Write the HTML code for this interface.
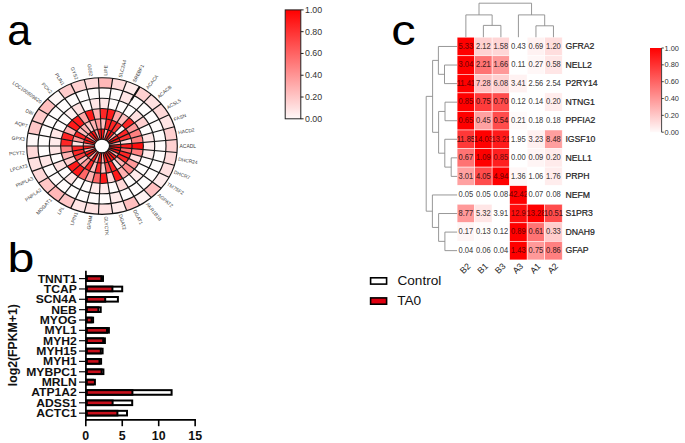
<!DOCTYPE html>
<html><head><meta charset="utf-8"><style>
html,body{margin:0;padding:0;background:#fff;}
svg{display:block;}
text{font-family:"Liberation Sans", sans-serif;}
</style></head><body>
<svg width="685" height="443" viewBox="0 0 685 443">
<rect width="685" height="443" fill="#fff"/>
<g><path d="M101.11,128.97 L101.70,128.95 L102.30,128.95 L102.89,128.97 L103.49,129.00 L104.08,129.05 L104.68,129.12 L103.07,139.27 L102.83,139.24 L102.59,139.22 L102.36,139.21 L102.12,139.20 L101.88,139.20 L101.64,139.21Z" fill="#ff1414"/><path d="M100.57,118.73 L101.52,118.70 L102.48,118.70 L103.43,118.73 L104.39,118.79 L105.34,118.87 L106.28,118.98 L104.68,129.12 L104.08,129.05 L103.49,129.00 L102.89,128.97 L102.30,128.95 L101.70,128.95 L101.11,128.97Z" fill="#ffbfbf"/><path d="M100.03,108.49 L101.34,108.45 L102.66,108.45 L103.97,108.49 L105.28,108.57 L106.59,108.68 L107.89,108.83 L106.28,118.98 L105.34,118.87 L104.39,118.79 L103.43,118.73 L102.48,118.70 L101.52,118.70 L100.57,118.73Z" fill="#ff2626"/><path d="M99.49,98.26 L101.16,98.21 L102.84,98.21 L104.51,98.26 L106.18,98.35 L107.84,98.50 L109.50,98.69 L107.89,108.83 L106.59,108.68 L105.28,108.57 L103.97,108.49 L102.66,108.45 L101.34,108.45 L100.03,108.49Z" fill="#ffe6e6"/><path d="M98.95,88.02 L100.98,87.96 L103.02,87.96 L105.05,88.02 L107.07,88.13 L109.09,88.31 L111.11,88.54 L109.50,98.69 L107.84,98.50 L106.18,98.35 L104.51,98.26 L102.84,98.21 L101.16,98.21 L99.49,98.26Z" fill="#fffcfc"/><path d="M98.42,77.78 L100.81,77.71 L103.19,77.71 L105.58,77.78 L107.97,77.92 L110.35,78.12 L112.72,78.40 L111.11,88.54 L109.09,88.31 L107.07,88.13 L105.05,88.02 L103.02,87.96 L100.98,87.96 L98.95,88.02Z" fill="#ffb8b8"/><path d="M104.68,129.12 L105.26,129.21 L105.85,129.31 L106.43,129.43 L107.01,129.56 L107.58,129.72 L108.15,129.89 L104.45,139.57 L104.23,139.50 L104.00,139.44 L103.77,139.39 L103.54,139.34 L103.30,139.30 L103.07,139.27Z" fill="#ffb2b2"/><path d="M106.28,118.98 L107.23,119.11 L108.16,119.28 L109.10,119.47 L110.02,119.69 L110.94,119.93 L111.84,120.20 L108.15,129.89 L107.58,129.72 L107.01,129.56 L106.43,129.43 L105.85,129.31 L105.26,129.21 L104.68,129.12Z" fill="#ff2626"/><path d="M107.89,108.83 L109.19,109.02 L110.48,109.25 L111.76,109.51 L113.03,109.81 L114.29,110.14 L115.54,110.52 L111.84,120.20 L110.94,119.93 L110.02,119.69 L109.10,119.47 L108.16,119.28 L107.23,119.11 L106.28,118.98Z" fill="#ff1a1a"/><path d="M109.50,98.69 L111.15,98.93 L112.79,99.21 L114.42,99.55 L116.04,99.93 L117.65,100.36 L119.24,100.83 L115.54,110.52 L114.29,110.14 L113.03,109.81 L111.76,109.51 L110.48,109.25 L109.19,109.02 L107.89,108.83Z" fill="#fffcfc"/><path d="M111.11,88.54 L113.11,88.83 L115.11,89.18 L117.09,89.59 L119.05,90.05 L121.00,90.57 L122.93,91.14 L119.24,100.83 L117.65,100.36 L116.04,99.93 L114.42,99.55 L112.79,99.21 L111.15,98.93 L109.50,98.69Z" fill="#fffcfc"/><path d="M112.72,78.40 L115.08,78.74 L117.42,79.15 L119.75,79.63 L122.07,80.17 L124.36,80.78 L126.63,81.46 L122.93,91.14 L121.00,90.57 L119.05,90.05 L117.09,89.59 L115.11,89.18 L113.11,88.83 L111.11,88.54Z" fill="#ffd9d9"/><path d="M108.15,129.89 L108.71,130.07 L109.26,130.27 L109.81,130.49 L110.35,130.72 L110.88,130.97 L111.40,131.23 L105.75,140.11 L105.54,140.00 L105.33,139.91 L105.12,139.81 L104.90,139.73 L104.68,139.65 L104.45,139.57Z" fill="#ff1414"/><path d="M111.84,120.20 L112.74,120.50 L113.63,120.82 L114.50,121.17 L115.37,121.54 L116.22,121.94 L117.05,122.36 L111.40,131.23 L110.88,130.97 L110.35,130.72 L109.81,130.49 L109.26,130.27 L108.71,130.07 L108.15,129.89Z" fill="#ff2626"/><path d="M115.54,110.52 L116.78,110.92 L117.99,111.37 L119.20,111.84 L120.38,112.36 L121.55,112.90 L122.70,113.48 L117.05,122.36 L116.22,121.94 L115.37,121.54 L114.50,121.17 L113.63,120.82 L112.74,120.50 L111.84,120.20Z" fill="#ffa6a6"/><path d="M119.24,100.83 L120.81,101.35 L122.36,101.91 L123.89,102.52 L125.40,103.17 L126.89,103.87 L128.35,104.60 L122.70,113.48 L121.55,112.90 L120.38,112.36 L119.20,111.84 L117.99,111.37 L116.78,110.92 L115.54,110.52Z" fill="#fffcfc"/><path d="M122.93,91.14 L124.84,91.77 L126.73,92.46 L128.59,93.20 L130.42,93.99 L132.23,94.83 L134.00,95.73 L128.35,104.60 L126.89,103.87 L125.40,103.17 L123.89,102.52 L122.36,101.91 L120.81,101.35 L119.24,100.83Z" fill="#ffe6e6"/><path d="M126.63,81.46 L128.87,82.20 L131.09,83.01 L133.28,83.87 L135.44,84.81 L137.56,85.80 L139.65,86.85 L134.00,95.73 L132.23,94.83 L130.42,93.99 L128.59,93.20 L126.73,92.46 L124.84,91.77 L122.93,91.14Z" fill="#ffebeb"/><path d="M111.40,131.23 L111.91,131.51 L112.41,131.80 L112.91,132.11 L113.39,132.43 L113.85,132.77 L114.31,133.11 L106.91,140.86 L106.73,140.72 L106.54,140.59 L106.35,140.46 L106.15,140.34 L105.95,140.22 L105.75,140.11Z" fill="#ff1414"/><path d="M117.05,122.36 L117.87,122.80 L118.67,123.27 L119.46,123.76 L120.23,124.28 L120.98,124.81 L121.71,125.37 L114.31,133.11 L113.85,132.77 L113.39,132.43 L112.91,132.11 L112.41,131.80 L111.91,131.51 L111.40,131.23Z" fill="#ff3333"/><path d="M122.70,113.48 L123.83,114.09 L124.93,114.74 L126.01,115.41 L127.07,116.12 L128.10,116.86 L129.11,117.62 L121.71,125.37 L120.98,124.81 L120.23,124.28 L119.46,123.76 L118.67,123.27 L117.87,122.80 L117.05,122.36Z" fill="#ffbfbf"/><path d="M128.35,104.60 L129.78,105.38 L131.19,106.20 L132.57,107.06 L133.92,107.96 L135.23,108.90 L136.51,109.88 L129.11,117.62 L128.10,116.86 L127.07,116.12 L126.01,115.41 L124.93,114.74 L123.83,114.09 L122.70,113.48Z" fill="#fffcfc"/><path d="M134.00,95.73 L135.74,96.68 L137.45,97.67 L139.12,98.72 L140.76,99.81 L142.36,100.95 L143.91,102.13 L136.51,109.88 L135.23,108.90 L133.92,107.96 L132.57,107.06 L131.19,106.20 L129.78,105.38 L128.35,104.60Z" fill="#fffcfc"/><path d="M139.65,86.85 L141.70,87.97 L143.71,89.14 L145.68,90.37 L147.60,91.65 L149.48,92.99 L151.31,94.38 L143.91,102.13 L142.36,100.95 L140.76,99.81 L139.12,98.72 L137.45,97.67 L135.74,96.68 L134.00,95.73Z" fill="#ffd1d1"/><path d="M114.31,133.11 L114.76,133.47 L115.19,133.85 L115.61,134.23 L116.01,134.63 L116.40,135.04 L116.78,135.46 L107.90,141.79 L107.75,141.63 L107.59,141.46 L107.43,141.31 L107.26,141.15 L107.09,141.00 L106.91,140.86Z" fill="#ffb2b2"/><path d="M121.71,125.37 L122.42,125.95 L123.11,126.54 L123.78,127.16 L124.43,127.80 L125.06,128.45 L125.66,129.12 L116.78,135.46 L116.40,135.04 L116.01,134.63 L115.61,134.23 L115.19,133.85 L114.76,133.47 L114.31,133.11Z" fill="#fff2f2"/><path d="M129.11,117.62 L130.09,118.42 L131.04,119.24 L131.96,120.09 L132.85,120.96 L133.71,121.86 L134.54,122.79 L125.66,129.12 L125.06,128.45 L124.43,127.80 L123.78,127.16 L123.11,126.54 L122.42,125.95 L121.71,125.37Z" fill="#ff2626"/><path d="M136.51,109.88 L137.76,110.89 L138.97,111.93 L140.14,113.01 L141.28,114.13 L142.37,115.28 L143.42,116.45 L134.54,122.79 L133.71,121.86 L132.85,120.96 L131.96,120.09 L131.04,119.24 L130.09,118.42 L129.11,117.62Z" fill="#ffe0e0"/><path d="M143.91,102.13 L145.42,103.36 L146.89,104.63 L148.32,105.94 L149.70,107.30 L151.03,108.69 L152.31,110.12 L143.42,116.45 L142.37,115.28 L141.28,114.13 L140.14,113.01 L138.97,111.93 L137.76,110.89 L136.51,109.88Z" fill="#fffcfc"/><path d="M151.31,94.38 L153.09,95.83 L154.82,97.33 L156.50,98.87 L158.12,100.46 L159.68,102.10 L161.19,103.78 L152.31,110.12 L151.03,108.69 L149.70,107.30 L148.32,105.94 L146.89,104.63 L145.42,103.36 L143.91,102.13Z" fill="#ffe0e0"/><path d="M116.78,135.46 L117.14,135.89 L117.49,136.33 L117.82,136.78 L118.13,137.24 L118.43,137.71 L118.71,138.19 L108.67,142.88 L108.55,142.69 L108.43,142.51 L108.31,142.32 L108.18,142.14 L108.04,141.97 L107.90,141.79Z" fill="#ff1414"/><path d="M125.66,129.12 L126.24,129.81 L126.79,130.52 L127.32,131.24 L127.83,131.98 L128.30,132.73 L128.75,133.49 L118.71,138.19 L118.43,137.71 L118.13,137.24 L117.82,136.78 L117.49,136.33 L117.14,135.89 L116.78,135.46Z" fill="#ff2626"/><path d="M134.54,122.79 L135.34,123.74 L136.10,124.71 L136.83,125.70 L137.52,126.71 L138.18,127.74 L138.80,128.79 L128.75,133.49 L128.30,132.73 L127.83,131.98 L127.32,131.24 L126.79,130.52 L126.24,129.81 L125.66,129.12Z" fill="#ff9999"/><path d="M143.42,116.45 L144.44,117.66 L145.41,118.90 L146.33,120.16 L147.22,121.45 L148.05,122.76 L148.84,124.10 L138.80,128.79 L138.18,127.74 L137.52,126.71 L136.83,125.70 L136.10,124.71 L135.34,123.74 L134.54,122.79Z" fill="#ffd1d1"/><path d="M152.31,110.12 L153.54,111.58 L154.72,113.08 L155.84,114.62 L156.91,116.18 L157.93,117.78 L158.89,119.40 L148.84,124.10 L148.05,122.76 L147.22,121.45 L146.33,120.16 L145.41,118.90 L144.44,117.66 L143.42,116.45Z" fill="#fffcfc"/><path d="M161.19,103.78 L162.64,105.51 L164.02,107.27 L165.35,109.08 L166.61,110.92 L167.80,112.79 L168.93,114.70 L158.89,119.40 L157.93,117.78 L156.91,116.18 L155.84,114.62 L154.72,113.08 L153.54,111.58 L152.31,110.12Z" fill="#ffd9d9"/><path d="M118.71,138.19 L118.98,138.67 L119.22,139.16 L119.45,139.66 L119.67,140.17 L119.86,140.68 L120.04,141.20 L109.20,144.08 L109.13,143.88 L109.05,143.67 L108.96,143.47 L108.87,143.27 L108.77,143.08 L108.67,142.88Z" fill="#ff1414"/><path d="M128.75,133.49 L129.18,134.27 L129.57,135.05 L129.94,135.85 L130.28,136.66 L130.60,137.48 L130.88,138.31 L120.04,141.20 L119.86,140.68 L119.67,140.17 L119.45,139.66 L119.22,139.16 L118.98,138.67 L118.71,138.19Z" fill="#ff3333"/><path d="M138.80,128.79 L139.38,129.86 L139.93,130.95 L140.43,132.04 L140.90,133.16 L141.33,134.28 L141.72,135.42 L130.88,138.31 L130.60,137.48 L130.28,136.66 L129.94,135.85 L129.57,135.05 L129.18,134.27 L128.75,133.49Z" fill="#ff8080"/><path d="M148.84,124.10 L149.58,125.46 L150.28,126.84 L150.92,128.23 L151.52,129.65 L152.07,131.09 L152.57,132.53 L141.72,135.42 L141.33,134.28 L140.90,133.16 L140.43,132.04 L139.93,130.95 L139.38,129.86 L138.80,128.79Z" fill="#fffcfc"/><path d="M158.89,119.40 L159.79,121.05 L160.63,122.73 L161.42,124.43 L162.14,126.15 L162.80,127.89 L163.41,129.65 L152.57,132.53 L152.07,131.09 L151.52,129.65 L150.92,128.23 L150.28,126.84 L149.58,125.46 L148.84,124.10Z" fill="#fffcfc"/><path d="M168.93,114.70 L169.99,116.65 L170.98,118.62 L171.91,120.62 L172.76,122.64 L173.54,124.69 L174.25,126.76 L163.41,129.65 L162.80,127.89 L162.14,126.15 L161.42,124.43 L160.63,122.73 L159.79,121.05 L158.89,119.40Z" fill="#ffe6e6"/><path d="M120.04,141.20 L120.20,141.72 L120.34,142.24 L120.46,142.77 L120.56,143.31 L120.65,143.84 L120.71,144.38 L109.47,145.35 L109.44,145.14 L109.41,144.93 L109.36,144.71 L109.32,144.50 L109.26,144.29 L109.20,144.08Z" fill="#ffb2b2"/><path d="M130.88,138.31 L131.14,139.14 L131.36,139.99 L131.56,140.83 L131.72,141.69 L131.86,142.54 L131.96,143.40 L120.71,144.38 L120.65,143.84 L120.56,143.31 L120.46,142.77 L120.34,142.24 L120.20,141.72 L120.04,141.20Z" fill="#ffd9d9"/><path d="M141.72,135.42 L142.07,136.57 L142.38,137.73 L142.65,138.89 L142.88,140.07 L143.07,141.25 L143.21,142.43 L131.96,143.40 L131.86,142.54 L131.72,141.69 L131.56,140.83 L131.36,139.99 L131.14,139.14 L130.88,138.31Z" fill="#ff8080"/><path d="M152.57,132.53 L153.01,134.00 L153.41,135.47 L153.75,136.95 L154.04,138.45 L154.28,139.95 L154.46,141.46 L143.21,142.43 L143.07,141.25 L142.88,140.07 L142.65,138.89 L142.38,137.73 L142.07,136.57 L141.72,135.42Z" fill="#ffe6e6"/><path d="M163.41,129.65 L163.95,131.42 L164.43,133.21 L164.84,135.01 L165.20,136.83 L165.49,138.65 L165.71,140.48 L154.46,141.46 L154.28,139.95 L154.04,138.45 L153.75,136.95 L153.41,135.47 L153.01,134.00 L152.57,132.53Z" fill="#fffcfc"/><path d="M174.25,126.76 L174.89,128.85 L175.45,130.95 L175.94,133.07 L176.35,135.21 L176.69,137.35 L176.96,139.51 L165.71,140.48 L165.49,138.65 L165.20,136.83 L164.84,135.01 L164.43,133.21 L163.95,131.42 L163.41,129.65Z" fill="#ffd1d1"/><path d="M120.71,144.38 L120.76,144.92 L120.79,145.46 L120.80,146.00 L120.79,146.54 L120.76,147.08 L120.71,147.62 L109.47,146.65 L109.48,146.43 L109.50,146.22 L109.50,146.00 L109.50,145.78 L109.48,145.57 L109.47,145.35Z" fill="#ff1414"/><path d="M131.96,143.40 L132.04,144.27 L132.08,145.13 L132.10,146.00 L132.08,146.87 L132.04,147.73 L131.96,148.60 L120.71,147.62 L120.76,147.08 L120.79,146.54 L120.80,146.00 L120.79,145.46 L120.76,144.92 L120.71,144.38Z" fill="#ff1a1a"/><path d="M143.21,142.43 L143.32,143.62 L143.38,144.81 L143.40,146.00 L143.38,147.19 L143.32,148.38 L143.21,149.57 L131.96,148.60 L132.04,147.73 L132.08,146.87 L132.10,146.00 L132.08,145.13 L132.04,144.27 L131.96,143.40Z" fill="#ff0d0d"/><path d="M154.46,141.46 L154.59,142.97 L154.67,144.48 L154.70,146.00 L154.67,147.52 L154.59,149.03 L154.46,150.54 L143.21,149.57 L143.32,148.38 L143.38,147.19 L143.40,146.00 L143.38,144.81 L143.32,143.62 L143.21,142.43Z" fill="#ffebeb"/><path d="M165.71,140.48 L165.87,142.32 L165.97,144.16 L166.00,146.00 L165.97,147.84 L165.87,149.68 L165.71,151.52 L154.46,150.54 L154.59,149.03 L154.67,147.52 L154.70,146.00 L154.67,144.48 L154.59,142.97 L154.46,141.46Z" fill="#fffcfc"/><path d="M176.96,139.51 L177.15,141.67 L177.26,143.83 L177.30,146.00 L177.26,148.17 L177.15,150.33 L176.96,152.49 L165.71,151.52 L165.87,149.68 L165.97,147.84 L166.00,146.00 L165.97,144.16 L165.87,142.32 L165.71,140.48Z" fill="#ffd1d1"/><path d="M120.71,147.62 L120.65,148.16 L120.56,148.69 L120.46,149.23 L120.34,149.76 L120.20,150.28 L120.04,150.80 L109.20,147.92 L109.26,147.71 L109.32,147.50 L109.36,147.29 L109.41,147.07 L109.44,146.86 L109.47,146.65Z" fill="#ff1414"/><path d="M131.96,148.60 L131.86,149.46 L131.72,150.31 L131.56,151.17 L131.36,152.01 L131.14,152.86 L130.88,153.69 L120.04,150.80 L120.20,150.28 L120.34,149.76 L120.46,149.23 L120.56,148.69 L120.65,148.16 L120.71,147.62Z" fill="#ff6666"/><path d="M143.21,149.57 L143.07,150.75 L142.88,151.93 L142.65,153.11 L142.38,154.27 L142.07,155.43 L141.72,156.58 L130.88,153.69 L131.14,152.86 L131.36,152.01 L131.56,151.17 L131.72,150.31 L131.86,149.46 L131.96,148.60Z" fill="#ff8080"/><path d="M154.46,150.54 L154.28,152.05 L154.04,153.55 L153.75,155.05 L153.41,156.53 L153.01,158.00 L152.57,159.47 L141.72,156.58 L142.07,155.43 L142.38,154.27 L142.65,153.11 L142.88,151.93 L143.07,150.75 L143.21,149.57Z" fill="#ffeded"/><path d="M165.71,151.52 L165.49,153.35 L165.20,155.17 L164.84,156.99 L164.43,158.79 L163.95,160.58 L163.41,162.35 L152.57,159.47 L153.01,158.00 L153.41,156.53 L153.75,155.05 L154.04,153.55 L154.28,152.05 L154.46,150.54Z" fill="#fffcfc"/><path d="M176.96,152.49 L176.69,154.65 L176.35,156.79 L175.94,158.93 L175.45,161.05 L174.89,163.15 L174.25,165.24 L163.41,162.35 L163.95,160.58 L164.43,158.79 L164.84,156.99 L165.20,155.17 L165.49,153.35 L165.71,151.52Z" fill="#ffdbdb"/><path d="M120.04,150.80 L119.86,151.32 L119.67,151.83 L119.45,152.34 L119.22,152.84 L118.98,153.33 L118.71,153.81 L108.67,149.12 L108.77,148.92 L108.87,148.73 L108.96,148.53 L109.05,148.33 L109.13,148.12 L109.20,147.92Z" fill="#ff1414"/><path d="M130.88,153.69 L130.60,154.52 L130.28,155.34 L129.94,156.15 L129.57,156.95 L129.18,157.73 L128.75,158.51 L118.71,153.81 L118.98,153.33 L119.22,152.84 L119.45,152.34 L119.67,151.83 L119.86,151.32 L120.04,150.80Z" fill="#ff2626"/><path d="M141.72,156.58 L141.33,157.72 L140.90,158.84 L140.43,159.96 L139.93,161.05 L139.38,162.14 L138.80,163.21 L128.75,158.51 L129.18,157.73 L129.57,156.95 L129.94,156.15 L130.28,155.34 L130.60,154.52 L130.88,153.69Z" fill="#ffe0e0"/><path d="M152.57,159.47 L152.07,160.91 L151.52,162.35 L150.92,163.77 L150.28,165.16 L149.58,166.54 L148.84,167.90 L138.80,163.21 L139.38,162.14 L139.93,161.05 L140.43,159.96 L140.90,158.84 L141.33,157.72 L141.72,156.58Z" fill="#fffcfc"/><path d="M163.41,162.35 L162.80,164.11 L162.14,165.85 L161.42,167.57 L160.63,169.27 L159.79,170.95 L158.89,172.60 L148.84,167.90 L149.58,166.54 L150.28,165.16 L150.92,163.77 L151.52,162.35 L152.07,160.91 L152.57,159.47Z" fill="#fffcfc"/><path d="M174.25,165.24 L173.54,167.31 L172.76,169.36 L171.91,171.38 L170.98,173.38 L169.99,175.35 L168.93,177.30 L158.89,172.60 L159.79,170.95 L160.63,169.27 L161.42,167.57 L162.14,165.85 L162.80,164.11 L163.41,162.35Z" fill="#ffe0e0"/><path d="M118.71,153.81 L118.43,154.29 L118.13,154.76 L117.82,155.22 L117.49,155.67 L117.14,156.11 L116.78,156.54 L107.90,150.21 L108.04,150.03 L108.18,149.86 L108.31,149.68 L108.43,149.49 L108.55,149.31 L108.67,149.12Z" fill="#ffb2b2"/><path d="M128.75,158.51 L128.30,159.27 L127.83,160.02 L127.32,160.76 L126.79,161.48 L126.24,162.19 L125.66,162.88 L116.78,156.54 L117.14,156.11 L117.49,155.67 L117.82,155.22 L118.13,154.76 L118.43,154.29 L118.71,153.81Z" fill="#ff2626"/><path d="M138.80,163.21 L138.18,164.26 L137.52,165.29 L136.83,166.30 L136.10,167.29 L135.34,168.26 L134.54,169.21 L125.66,162.88 L126.24,162.19 L126.79,161.48 L127.32,160.76 L127.83,160.02 L128.30,159.27 L128.75,158.51Z" fill="#ff9999"/><path d="M148.84,167.90 L148.05,169.24 L147.22,170.55 L146.33,171.84 L145.41,173.10 L144.44,174.34 L143.42,175.55 L134.54,169.21 L135.34,168.26 L136.10,167.29 L136.83,166.30 L137.52,165.29 L138.18,164.26 L138.80,163.21Z" fill="#fffcfc"/><path d="M158.89,172.60 L157.93,174.22 L156.91,175.82 L155.84,177.38 L154.72,178.92 L153.54,180.42 L152.31,181.88 L143.42,175.55 L144.44,174.34 L145.41,173.10 L146.33,171.84 L147.22,170.55 L148.05,169.24 L148.84,167.90Z" fill="#fffcfc"/><path d="M168.93,177.30 L167.80,179.21 L166.61,181.08 L165.35,182.92 L164.02,184.73 L162.64,186.49 L161.19,188.22 L152.31,181.88 L153.54,180.42 L154.72,178.92 L155.84,177.38 L156.91,175.82 L157.93,174.22 L158.89,172.60Z" fill="#ffebeb"/><path d="M116.78,156.54 L116.40,156.96 L116.01,157.37 L115.61,157.77 L115.19,158.15 L114.76,158.53 L114.31,158.89 L106.91,151.14 L107.09,151.00 L107.26,150.85 L107.43,150.69 L107.59,150.54 L107.75,150.37 L107.90,150.21Z" fill="#ff1414"/><path d="M125.66,162.88 L125.06,163.55 L124.43,164.20 L123.78,164.84 L123.11,165.46 L122.42,166.05 L121.71,166.63 L114.31,158.89 L114.76,158.53 L115.19,158.15 L115.61,157.77 L116.01,157.37 L116.40,156.96 L116.78,156.54Z" fill="#ffb2b2"/><path d="M134.54,169.21 L133.71,170.14 L132.85,171.04 L131.96,171.91 L131.04,172.76 L130.09,173.58 L129.11,174.38 L121.71,166.63 L122.42,166.05 L123.11,165.46 L123.78,164.84 L124.43,164.20 L125.06,163.55 L125.66,162.88Z" fill="#ff8c8c"/><path d="M143.42,175.55 L142.37,176.72 L141.28,177.87 L140.14,178.99 L138.97,180.07 L137.76,181.11 L136.51,182.12 L129.11,174.38 L130.09,173.58 L131.04,172.76 L131.96,171.91 L132.85,171.04 L133.71,170.14 L134.54,169.21Z" fill="#ffebeb"/><path d="M152.31,181.88 L151.03,183.31 L149.70,184.70 L148.32,186.06 L146.89,187.37 L145.42,188.64 L143.91,189.87 L136.51,182.12 L137.76,181.11 L138.97,180.07 L140.14,178.99 L141.28,177.87 L142.37,176.72 L143.42,175.55Z" fill="#fffcfc"/><path d="M161.19,188.22 L159.68,189.90 L158.12,191.54 L156.50,193.13 L154.82,194.67 L153.09,196.17 L151.31,197.62 L143.91,189.87 L145.42,188.64 L146.89,187.37 L148.32,186.06 L149.70,184.70 L151.03,183.31 L152.31,181.88Z" fill="#ffbfbf"/><path d="M114.31,158.89 L113.85,159.23 L113.39,159.57 L112.91,159.89 L112.41,160.20 L111.91,160.49 L111.40,160.77 L105.75,151.89 L105.95,151.78 L106.15,151.66 L106.35,151.54 L106.54,151.41 L106.73,151.28 L106.91,151.14Z" fill="#ff1414"/><path d="M121.71,166.63 L120.98,167.19 L120.23,167.72 L119.46,168.24 L118.67,168.73 L117.87,169.20 L117.05,169.64 L111.40,160.77 L111.91,160.49 L112.41,160.20 L112.91,159.89 L113.39,159.57 L113.85,159.23 L114.31,158.89Z" fill="#ffe6e6"/><path d="M129.11,174.38 L128.10,175.14 L127.07,175.88 L126.01,176.59 L124.93,177.26 L123.83,177.91 L122.70,178.52 L117.05,169.64 L117.87,169.20 L118.67,168.73 L119.46,168.24 L120.23,167.72 L120.98,167.19 L121.71,166.63Z" fill="#ffb2b2"/><path d="M136.51,182.12 L135.23,183.10 L133.92,184.04 L132.57,184.94 L131.19,185.80 L129.78,186.62 L128.35,187.40 L122.70,178.52 L123.83,177.91 L124.93,177.26 L126.01,176.59 L127.07,175.88 L128.10,175.14 L129.11,174.38Z" fill="#fffcfc"/><path d="M143.91,189.87 L142.36,191.05 L140.76,192.19 L139.12,193.28 L137.45,194.33 L135.74,195.32 L134.00,196.27 L128.35,187.40 L129.78,186.62 L131.19,185.80 L132.57,184.94 L133.92,184.04 L135.23,183.10 L136.51,182.12Z" fill="#fffcfc"/><path d="M151.31,197.62 L149.48,199.01 L147.60,200.35 L145.68,201.63 L143.71,202.86 L141.70,204.03 L139.65,205.15 L134.00,196.27 L135.74,195.32 L137.45,194.33 L139.12,193.28 L140.76,192.19 L142.36,191.05 L143.91,189.87Z" fill="#fff2f2"/><path d="M111.40,160.77 L110.88,161.03 L110.35,161.28 L109.81,161.51 L109.26,161.73 L108.71,161.93 L108.15,162.11 L104.45,152.43 L104.68,152.35 L104.90,152.27 L105.12,152.19 L105.33,152.09 L105.54,152.00 L105.75,151.89Z" fill="#ff1414"/><path d="M117.05,169.64 L116.22,170.06 L115.37,170.46 L114.50,170.83 L113.63,171.18 L112.74,171.50 L111.84,171.80 L108.15,162.11 L108.71,161.93 L109.26,161.73 L109.81,161.51 L110.35,161.28 L110.88,161.03 L111.40,160.77Z" fill="#ff2626"/><path d="M122.70,178.52 L121.55,179.10 L120.38,179.64 L119.20,180.16 L117.99,180.63 L116.78,181.08 L115.54,181.48 L111.84,171.80 L112.74,171.50 L113.63,171.18 L114.50,170.83 L115.37,170.46 L116.22,170.06 L117.05,169.64Z" fill="#ff1a1a"/><path d="M128.35,187.40 L126.89,188.13 L125.40,188.83 L123.89,189.48 L122.36,190.09 L120.81,190.65 L119.24,191.17 L115.54,181.48 L116.78,181.08 L117.99,180.63 L119.20,180.16 L120.38,179.64 L121.55,179.10 L122.70,178.52Z" fill="#ffd9d9"/><path d="M134.00,196.27 L132.23,197.17 L130.42,198.01 L128.59,198.80 L126.73,199.54 L124.84,200.23 L122.93,200.86 L119.24,191.17 L120.81,190.65 L122.36,190.09 L123.89,189.48 L125.40,188.83 L126.89,188.13 L128.35,187.40Z" fill="#fffcfc"/><path d="M139.65,205.15 L137.56,206.20 L135.44,207.19 L133.28,208.13 L131.09,208.99 L128.87,209.80 L126.63,210.54 L122.93,200.86 L124.84,200.23 L126.73,199.54 L128.59,198.80 L130.42,198.01 L132.23,197.17 L134.00,196.27Z" fill="#ffbfbf"/><path d="M108.15,162.11 L107.58,162.28 L107.01,162.44 L106.43,162.57 L105.85,162.69 L105.26,162.79 L104.68,162.88 L103.07,152.73 L103.30,152.70 L103.54,152.66 L103.77,152.61 L104.00,152.56 L104.23,152.50 L104.45,152.43Z" fill="#ff1414"/><path d="M111.84,171.80 L110.94,172.07 L110.02,172.31 L109.10,172.53 L108.16,172.72 L107.23,172.89 L106.28,173.02 L104.68,162.88 L105.26,162.79 L105.85,162.69 L106.43,162.57 L107.01,162.44 L107.58,162.28 L108.15,162.11Z" fill="#ff4c4c"/><path d="M115.54,181.48 L114.29,181.86 L113.03,182.19 L111.76,182.49 L110.48,182.75 L109.19,182.98 L107.89,183.17 L106.28,173.02 L107.23,172.89 L108.16,172.72 L109.10,172.53 L110.02,172.31 L110.94,172.07 L111.84,171.80Z" fill="#ffd9d9"/><path d="M119.24,191.17 L117.65,191.64 L116.04,192.07 L114.42,192.45 L112.79,192.79 L111.15,193.07 L109.50,193.31 L107.89,183.17 L109.19,182.98 L110.48,182.75 L111.76,182.49 L113.03,182.19 L114.29,181.86 L115.54,181.48Z" fill="#fffcfc"/><path d="M122.93,200.86 L121.00,201.43 L119.05,201.95 L117.09,202.41 L115.11,202.82 L113.11,203.17 L111.11,203.46 L109.50,193.31 L111.15,193.07 L112.79,192.79 L114.42,192.45 L116.04,192.07 L117.65,191.64 L119.24,191.17Z" fill="#ffebeb"/><path d="M126.63,210.54 L124.36,211.22 L122.07,211.83 L119.75,212.37 L117.42,212.85 L115.08,213.26 L112.72,213.60 L111.11,203.46 L113.11,203.17 L115.11,202.82 L117.09,202.41 L119.05,201.95 L121.00,201.43 L122.93,200.86Z" fill="#ffebeb"/><path d="M104.68,162.88 L104.08,162.95 L103.49,163.00 L102.89,163.03 L102.30,163.05 L101.70,163.05 L101.11,163.03 L101.64,152.79 L101.88,152.80 L102.12,152.80 L102.36,152.79 L102.59,152.78 L102.83,152.76 L103.07,152.73Z" fill="#ffb2b2"/><path d="M106.28,173.02 L105.34,173.13 L104.39,173.21 L103.43,173.27 L102.48,173.30 L101.52,173.30 L100.57,173.27 L101.11,163.03 L101.70,163.05 L102.30,163.05 L102.89,163.03 L103.49,163.00 L104.08,162.95 L104.68,162.88Z" fill="#ffcccc"/><path d="M107.89,183.17 L106.59,183.32 L105.28,183.43 L103.97,183.51 L102.66,183.55 L101.34,183.55 L100.03,183.51 L100.57,173.27 L101.52,173.30 L102.48,173.30 L103.43,173.27 L104.39,173.21 L105.34,173.13 L106.28,173.02Z" fill="#ff1a1a"/><path d="M109.50,193.31 L107.84,193.50 L106.18,193.65 L104.51,193.74 L102.84,193.79 L101.16,193.79 L99.49,193.74 L100.03,183.51 L101.34,183.55 L102.66,183.55 L103.97,183.51 L105.28,183.43 L106.59,183.32 L107.89,183.17Z" fill="#ffebeb"/><path d="M111.11,203.46 L109.09,203.69 L107.07,203.87 L105.05,203.98 L103.02,204.04 L100.98,204.04 L98.95,203.98 L99.49,193.74 L101.16,193.79 L102.84,193.79 L104.51,193.74 L106.18,193.65 L107.84,193.50 L109.50,193.31Z" fill="#fffcfc"/><path d="M112.72,213.60 L110.35,213.88 L107.97,214.08 L105.58,214.22 L103.19,214.29 L100.81,214.29 L98.42,214.22 L98.95,203.98 L100.98,204.04 L103.02,204.04 L105.05,203.98 L107.07,203.87 L109.09,203.69 L111.11,203.46Z" fill="#ffe0e0"/><path d="M101.11,163.03 L100.51,163.00 L99.92,162.95 L99.32,162.88 L98.74,162.79 L98.15,162.69 L97.57,162.57 L100.23,152.61 L100.46,152.66 L100.70,152.70 L100.93,152.73 L101.17,152.76 L101.41,152.78 L101.64,152.79Z" fill="#ff1414"/><path d="M100.57,173.27 L99.61,173.21 L98.66,173.13 L97.72,173.02 L96.77,172.89 L95.84,172.72 L94.90,172.53 L97.57,162.57 L98.15,162.69 L98.74,162.79 L99.32,162.88 L99.92,162.95 L100.51,163.00 L101.11,163.03Z" fill="#ff2626"/><path d="M100.03,183.51 L98.72,183.43 L97.41,183.32 L96.11,183.17 L94.81,182.98 L93.52,182.75 L92.24,182.49 L94.90,172.53 L95.84,172.72 L96.77,172.89 L97.72,173.02 L98.66,173.13 L99.61,173.21 L100.57,173.27Z" fill="#ff6666"/><path d="M99.49,193.74 L97.82,193.65 L96.16,193.50 L94.50,193.31 L92.85,193.07 L91.21,192.79 L89.58,192.45 L92.24,182.49 L93.52,182.75 L94.81,182.98 L96.11,183.17 L97.41,183.32 L98.72,183.43 L100.03,183.51Z" fill="#ffebeb"/><path d="M98.95,203.98 L96.93,203.87 L94.91,203.69 L92.89,203.46 L90.89,203.17 L88.89,202.82 L86.91,202.41 L89.58,192.45 L91.21,192.79 L92.85,193.07 L94.50,193.31 L96.16,193.50 L97.82,193.65 L99.49,193.74Z" fill="#fffcfc"/><path d="M98.42,214.22 L96.03,214.08 L93.65,213.88 L91.28,213.60 L88.92,213.26 L86.58,212.85 L84.25,212.37 L86.91,202.41 L88.89,202.82 L90.89,203.17 L92.89,203.46 L94.91,203.69 L96.93,203.87 L98.95,203.98Z" fill="#ffe0e0"/><path d="M97.57,162.57 L96.99,162.44 L96.42,162.28 L95.85,162.11 L95.29,161.93 L94.74,161.73 L94.19,161.51 L98.88,152.19 L99.10,152.27 L99.32,152.35 L99.55,152.43 L99.77,152.50 L100.00,152.56 L100.23,152.61Z" fill="#ffb2b2"/><path d="M94.90,172.53 L93.98,172.31 L93.06,172.07 L92.16,171.80 L91.26,171.50 L90.37,171.18 L89.50,170.83 L94.19,161.51 L94.74,161.73 L95.29,161.93 L95.85,162.11 L96.42,162.28 L96.99,162.44 L97.57,162.57Z" fill="#ffbfbf"/><path d="M92.24,182.49 L90.97,182.19 L89.71,181.86 L88.46,181.48 L87.22,181.08 L86.01,180.63 L84.80,180.16 L89.50,170.83 L90.37,171.18 L91.26,171.50 L92.16,171.80 L93.06,172.07 L93.98,172.31 L94.90,172.53Z" fill="#ffb2b2"/><path d="M89.58,192.45 L87.96,192.07 L86.35,191.64 L84.76,191.17 L83.19,190.65 L81.64,190.09 L80.11,189.48 L84.80,180.16 L86.01,180.63 L87.22,181.08 L88.46,181.48 L89.71,181.86 L90.97,182.19 L92.24,182.49Z" fill="#fffcfc"/><path d="M86.91,202.41 L84.95,201.95 L83.00,201.43 L81.07,200.86 L79.16,200.23 L77.27,199.54 L75.41,198.80 L80.11,189.48 L81.64,190.09 L83.19,190.65 L84.76,191.17 L86.35,191.64 L87.96,192.07 L89.58,192.45Z" fill="#fffcfc"/><path d="M84.25,212.37 L81.93,211.83 L79.64,211.22 L77.37,210.54 L75.13,209.80 L72.91,208.99 L70.72,208.13 L75.41,198.80 L77.27,199.54 L79.16,200.23 L81.07,200.86 L83.00,201.43 L84.95,201.95 L86.91,202.41Z" fill="#ffe6e6"/><path d="M94.19,161.51 L93.65,161.28 L93.12,161.03 L92.60,160.77 L92.09,160.49 L91.59,160.20 L91.09,159.89 L97.65,151.54 L97.85,151.66 L98.05,151.78 L98.25,151.89 L98.46,152.00 L98.67,152.09 L98.88,152.19Z" fill="#ff1414"/><path d="M89.50,170.83 L88.63,170.46 L87.78,170.06 L86.95,169.64 L86.13,169.20 L85.33,168.73 L84.54,168.24 L91.09,159.89 L91.59,160.20 L92.09,160.49 L92.60,160.77 L93.12,161.03 L93.65,161.28 L94.19,161.51Z" fill="#ff2626"/><path d="M84.80,180.16 L83.62,179.64 L82.45,179.10 L81.30,178.52 L80.17,177.91 L79.07,177.26 L77.99,176.59 L84.54,168.24 L85.33,168.73 L86.13,169.20 L86.95,169.64 L87.78,170.06 L88.63,170.46 L89.50,170.83Z" fill="#ff6666"/><path d="M80.11,189.48 L78.60,188.83 L77.11,188.13 L75.65,187.40 L74.22,186.62 L72.81,185.80 L71.43,184.94 L77.99,176.59 L79.07,177.26 L80.17,177.91 L81.30,178.52 L82.45,179.10 L83.62,179.64 L84.80,180.16Z" fill="#fffcfc"/><path d="M75.41,198.80 L73.58,198.01 L71.77,197.17 L70.00,196.27 L68.26,195.32 L66.55,194.33 L64.88,193.28 L71.43,184.94 L72.81,185.80 L74.22,186.62 L75.65,187.40 L77.11,188.13 L78.60,188.83 L80.11,189.48Z" fill="#fffcfc"/><path d="M70.72,208.13 L68.56,207.19 L66.44,206.20 L64.35,205.15 L62.30,204.03 L60.29,202.86 L58.32,201.63 L64.88,193.28 L66.55,194.33 L68.26,195.32 L70.00,196.27 L71.77,197.17 L73.58,198.01 L75.41,198.80Z" fill="#ffc7c7"/><path d="M91.09,159.89 L90.61,159.57 L90.15,159.23 L89.69,158.89 L89.24,158.53 L88.81,158.15 L88.39,157.77 L96.57,150.69 L96.74,150.85 L96.91,151.00 L97.09,151.14 L97.27,151.28 L97.46,151.41 L97.65,151.54Z" fill="#ffb2b2"/><path d="M84.54,168.24 L83.77,167.72 L83.02,167.19 L82.29,166.63 L81.58,166.05 L80.89,165.46 L80.22,164.84 L88.39,157.77 L88.81,158.15 L89.24,158.53 L89.69,158.89 L90.15,159.23 L90.61,159.57 L91.09,159.89Z" fill="#ff9999"/><path d="M77.99,176.59 L76.93,175.88 L75.90,175.14 L74.89,174.38 L73.91,173.58 L72.96,172.76 L72.04,171.91 L80.22,164.84 L80.89,165.46 L81.58,166.05 L82.29,166.63 L83.02,167.19 L83.77,167.72 L84.54,168.24Z" fill="#ff1a1a"/><path d="M71.43,184.94 L70.08,184.04 L68.77,183.10 L67.49,182.12 L66.24,181.11 L65.03,180.07 L63.86,178.99 L72.04,171.91 L72.96,172.76 L73.91,173.58 L74.89,174.38 L75.90,175.14 L76.93,175.88 L77.99,176.59Z" fill="#ffe6e6"/><path d="M64.88,193.28 L63.24,192.19 L61.64,191.05 L60.09,189.87 L58.58,188.64 L57.11,187.37 L55.68,186.06 L63.86,178.99 L65.03,180.07 L66.24,181.11 L67.49,182.12 L68.77,183.10 L70.08,184.04 L71.43,184.94Z" fill="#fffcfc"/><path d="M58.32,201.63 L56.40,200.35 L54.52,199.01 L52.69,197.62 L50.91,196.17 L49.18,194.67 L47.50,193.13 L55.68,186.06 L57.11,187.37 L58.58,188.64 L60.09,189.87 L61.64,191.05 L63.24,192.19 L64.88,193.28Z" fill="#ffb8b8"/><path d="M88.39,157.77 L87.99,157.37 L87.60,156.96 L87.22,156.54 L86.86,156.11 L86.51,155.67 L86.18,155.22 L95.69,149.68 L95.82,149.86 L95.96,150.03 L96.10,150.21 L96.25,150.37 L96.41,150.54 L96.57,150.69Z" fill="#ff1414"/><path d="M80.22,164.84 L79.57,164.20 L78.94,163.55 L78.34,162.88 L77.76,162.19 L77.21,161.48 L76.68,160.76 L86.18,155.22 L86.51,155.67 L86.86,156.11 L87.22,156.54 L87.60,156.96 L87.99,157.37 L88.39,157.77Z" fill="#ffbfbf"/><path d="M72.04,171.91 L71.15,171.04 L70.29,170.14 L69.46,169.21 L68.66,168.26 L67.90,167.29 L67.17,166.30 L76.68,160.76 L77.21,161.48 L77.76,162.19 L78.34,162.88 L78.94,163.55 L79.57,164.20 L80.22,164.84Z" fill="#ff1a1a"/><path d="M63.86,178.99 L62.72,177.87 L61.63,176.72 L60.58,175.55 L59.56,174.34 L58.59,173.10 L57.67,171.84 L67.17,166.30 L67.90,167.29 L68.66,168.26 L69.46,169.21 L70.29,170.14 L71.15,171.04 L72.04,171.91Z" fill="#fffcfc"/><path d="M55.68,186.06 L54.30,184.70 L52.97,183.31 L51.69,181.88 L50.46,180.42 L49.28,178.92 L48.16,177.38 L57.67,171.84 L58.59,173.10 L59.56,174.34 L60.58,175.55 L61.63,176.72 L62.72,177.87 L63.86,178.99Z" fill="#fffcfc"/><path d="M47.50,193.13 L45.88,191.54 L44.32,189.90 L42.81,188.22 L41.36,186.49 L39.98,184.73 L38.65,182.92 L48.16,177.38 L49.28,178.92 L50.46,180.42 L51.69,181.88 L52.97,183.31 L54.30,184.70 L55.68,186.06Z" fill="#ffc7c7"/><path d="M86.18,155.22 L85.87,154.76 L85.57,154.29 L85.29,153.81 L85.02,153.33 L84.78,152.84 L84.55,152.34 L95.04,148.53 L95.13,148.73 L95.23,148.92 L95.33,149.12 L95.45,149.31 L95.57,149.49 L95.69,149.68Z" fill="#ff1414"/><path d="M76.68,160.76 L76.17,160.02 L75.70,159.27 L75.25,158.51 L74.82,157.73 L74.43,156.95 L74.06,156.15 L84.55,152.34 L84.78,152.84 L85.02,153.33 L85.29,153.81 L85.57,154.29 L85.87,154.76 L86.18,155.22Z" fill="#ff4040"/><path d="M67.17,166.30 L66.48,165.29 L65.82,164.26 L65.20,163.21 L64.62,162.14 L64.07,161.05 L63.57,159.96 L74.06,156.15 L74.43,156.95 L74.82,157.73 L75.25,158.51 L75.70,159.27 L76.17,160.02 L76.68,160.76Z" fill="#ffcccc"/><path d="M57.67,171.84 L56.78,170.55 L55.95,169.24 L55.16,167.90 L54.42,166.54 L53.72,165.16 L53.08,163.77 L63.57,159.96 L64.07,161.05 L64.62,162.14 L65.20,163.21 L65.82,164.26 L66.48,165.29 L67.17,166.30Z" fill="#ffe0e0"/><path d="M48.16,177.38 L47.09,175.82 L46.07,174.22 L45.11,172.60 L44.21,170.95 L43.37,169.27 L42.58,167.57 L53.08,163.77 L53.72,165.16 L54.42,166.54 L55.16,167.90 L55.95,169.24 L56.78,170.55 L57.67,171.84Z" fill="#fffcfc"/><path d="M38.65,182.92 L37.39,181.08 L36.20,179.21 L35.07,177.30 L34.01,175.35 L33.02,173.38 L32.09,171.38 L42.58,167.57 L43.37,169.27 L44.21,170.95 L45.11,172.60 L46.07,174.22 L47.09,175.82 L48.16,177.38Z" fill="#ffd9d9"/><path d="M84.55,152.34 L84.33,151.83 L84.14,151.32 L83.96,150.80 L83.80,150.28 L83.66,149.76 L83.54,149.23 L94.64,147.29 L94.68,147.50 L94.74,147.71 L94.80,147.92 L94.87,148.12 L94.95,148.33 L95.04,148.53Z" fill="#ffb2b2"/><path d="M74.06,156.15 L73.72,155.34 L73.40,154.52 L73.12,153.69 L72.86,152.86 L72.64,152.01 L72.44,151.17 L83.54,149.23 L83.66,149.76 L83.80,150.28 L83.96,150.80 L84.14,151.32 L84.33,151.83 L84.55,152.34Z" fill="#ff2626"/><path d="M63.57,159.96 L63.10,158.84 L62.67,157.72 L62.28,156.58 L61.93,155.43 L61.62,154.27 L61.35,153.11 L72.44,151.17 L72.64,152.01 L72.86,152.86 L73.12,153.69 L73.40,154.52 L73.72,155.34 L74.06,156.15Z" fill="#ffb2b2"/><path d="M53.08,163.77 L52.48,162.35 L51.93,160.91 L51.43,159.47 L50.99,158.00 L50.59,156.53 L50.25,155.05 L61.35,153.11 L61.62,154.27 L61.93,155.43 L62.28,156.58 L62.67,157.72 L63.10,158.84 L63.57,159.96Z" fill="#fffcfc"/><path d="M42.58,167.57 L41.86,165.85 L41.20,164.11 L40.59,162.35 L40.05,160.58 L39.57,158.79 L39.16,156.99 L50.25,155.05 L50.59,156.53 L50.99,158.00 L51.43,159.47 L51.93,160.91 L52.48,162.35 L53.08,163.77Z" fill="#ffe6e6"/><path d="M32.09,171.38 L31.24,169.36 L30.46,167.31 L29.75,165.24 L29.11,163.15 L28.55,161.05 L28.06,158.93 L39.16,156.99 L39.57,158.79 L40.05,160.58 L40.59,162.35 L41.20,164.11 L41.86,165.85 L42.58,167.57Z" fill="#ffe0e0"/><path d="M83.54,149.23 L83.44,148.69 L83.35,148.16 L83.29,147.62 L83.24,147.08 L83.21,146.54 L83.20,146.00 L94.50,146.00 L94.50,146.22 L94.52,146.43 L94.53,146.65 L94.56,146.86 L94.59,147.07 L94.64,147.29Z" fill="#ff1414"/><path d="M72.44,151.17 L72.28,150.31 L72.14,149.46 L72.04,148.60 L71.96,147.73 L71.92,146.87 L71.90,146.00 L83.20,146.00 L83.21,146.54 L83.24,147.08 L83.29,147.62 L83.35,148.16 L83.44,148.69 L83.54,149.23Z" fill="#ff2626"/><path d="M61.35,153.11 L61.12,151.93 L60.93,150.75 L60.79,149.57 L60.68,148.38 L60.62,147.19 L60.60,146.00 L71.90,146.00 L71.92,146.87 L71.96,147.73 L72.04,148.60 L72.14,149.46 L72.28,150.31 L72.44,151.17Z" fill="#ff8080"/><path d="M50.25,155.05 L49.96,153.55 L49.72,152.05 L49.54,150.54 L49.41,149.03 L49.33,147.52 L49.30,146.00 L60.60,146.00 L60.62,147.19 L60.68,148.38 L60.79,149.57 L60.93,150.75 L61.12,151.93 L61.35,153.11Z" fill="#ffe6e6"/><path d="M39.16,156.99 L38.80,155.17 L38.51,153.35 L38.29,151.52 L38.13,149.68 L38.03,147.84 L38.00,146.00 L49.30,146.00 L49.33,147.52 L49.41,149.03 L49.54,150.54 L49.72,152.05 L49.96,153.55 L50.25,155.05Z" fill="#fffcfc"/><path d="M28.06,158.93 L27.65,156.79 L27.31,154.65 L27.04,152.49 L26.85,150.33 L26.74,148.17 L26.70,146.00 L38.00,146.00 L38.03,147.84 L38.13,149.68 L38.29,151.52 L38.51,153.35 L38.80,155.17 L39.16,156.99Z" fill="#ffd9d9"/><path d="M83.20,146.00 L83.21,145.46 L83.24,144.92 L83.29,144.38 L83.35,143.84 L83.44,143.31 L83.54,142.77 L94.64,144.71 L94.59,144.93 L94.56,145.14 L94.53,145.35 L94.52,145.57 L94.50,145.78 L94.50,146.00Z" fill="#ffb2b2"/><path d="M71.90,146.00 L71.92,145.13 L71.96,144.27 L72.04,143.40 L72.14,142.54 L72.28,141.69 L72.44,140.83 L83.54,142.77 L83.44,143.31 L83.35,143.84 L83.29,144.38 L83.24,144.92 L83.21,145.46 L83.20,146.00Z" fill="#ffe6e6"/><path d="M60.60,146.00 L60.62,144.81 L60.68,143.62 L60.79,142.43 L60.93,141.25 L61.12,140.07 L61.35,138.89 L72.44,140.83 L72.28,141.69 L72.14,142.54 L72.04,143.40 L71.96,144.27 L71.92,145.13 L71.90,146.00Z" fill="#ff2626"/><path d="M49.30,146.00 L49.33,144.48 L49.41,142.97 L49.54,141.46 L49.72,139.95 L49.96,138.45 L50.25,136.95 L61.35,138.89 L61.12,140.07 L60.93,141.25 L60.79,142.43 L60.68,143.62 L60.62,144.81 L60.60,146.00Z" fill="#ffebeb"/><path d="M38.00,146.00 L38.03,144.16 L38.13,142.32 L38.29,140.48 L38.51,138.65 L38.80,136.83 L39.16,135.01 L50.25,136.95 L49.96,138.45 L49.72,139.95 L49.54,141.46 L49.41,142.97 L49.33,144.48 L49.30,146.00Z" fill="#fffcfc"/><path d="M26.70,146.00 L26.74,143.83 L26.85,141.67 L27.04,139.51 L27.31,137.35 L27.65,135.21 L28.06,133.07 L39.16,135.01 L38.80,136.83 L38.51,138.65 L38.29,140.48 L38.13,142.32 L38.03,144.16 L38.00,146.00Z" fill="#fff7f7"/><path d="M83.54,142.77 L83.66,142.24 L83.80,141.72 L83.96,141.20 L84.14,140.68 L84.33,140.17 L84.55,139.66 L95.04,143.47 L94.95,143.67 L94.87,143.88 L94.80,144.08 L94.74,144.29 L94.68,144.50 L94.64,144.71Z" fill="#ff1414"/><path d="M72.44,140.83 L72.64,139.99 L72.86,139.14 L73.12,138.31 L73.40,137.48 L73.72,136.66 L74.06,135.85 L84.55,139.66 L84.33,140.17 L84.14,140.68 L83.96,141.20 L83.80,141.72 L83.66,142.24 L83.54,142.77Z" fill="#ff9999"/><path d="M61.35,138.89 L61.62,137.73 L61.93,136.57 L62.28,135.42 L62.67,134.28 L63.10,133.16 L63.57,132.04 L74.06,135.85 L73.72,136.66 L73.40,137.48 L73.12,138.31 L72.86,139.14 L72.64,139.99 L72.44,140.83Z" fill="#ff2626"/><path d="M50.25,136.95 L50.59,135.47 L50.99,134.00 L51.43,132.53 L51.93,131.09 L52.48,129.65 L53.08,128.23 L63.57,132.04 L63.10,133.16 L62.67,134.28 L62.28,135.42 L61.93,136.57 L61.62,137.73 L61.35,138.89Z" fill="#ffe6e6"/><path d="M39.16,135.01 L39.57,133.21 L40.05,131.42 L40.59,129.65 L41.20,127.89 L41.86,126.15 L42.58,124.43 L53.08,128.23 L52.48,129.65 L51.93,131.09 L51.43,132.53 L50.99,134.00 L50.59,135.47 L50.25,136.95Z" fill="#fffcfc"/><path d="M28.06,133.07 L28.55,130.95 L29.11,128.85 L29.75,126.76 L30.46,124.69 L31.24,122.64 L32.09,120.62 L42.58,124.43 L41.86,126.15 L41.20,127.89 L40.59,129.65 L40.05,131.42 L39.57,133.21 L39.16,135.01Z" fill="#ffc7c7"/><path d="M84.55,139.66 L84.78,139.16 L85.02,138.67 L85.29,138.19 L85.57,137.71 L85.87,137.24 L86.18,136.78 L95.69,142.32 L95.57,142.51 L95.45,142.69 L95.33,142.88 L95.23,143.08 L95.13,143.27 L95.04,143.47Z" fill="#ff1414"/><path d="M74.06,135.85 L74.43,135.05 L74.82,134.27 L75.25,133.49 L75.70,132.73 L76.17,131.98 L76.68,131.24 L86.18,136.78 L85.87,137.24 L85.57,137.71 L85.29,138.19 L85.02,138.67 L84.78,139.16 L84.55,139.66Z" fill="#ff2626"/><path d="M63.57,132.04 L64.07,130.95 L64.62,129.86 L65.20,128.79 L65.82,127.74 L66.48,126.71 L67.17,125.70 L76.68,131.24 L76.17,131.98 L75.70,132.73 L75.25,133.49 L74.82,134.27 L74.43,135.05 L74.06,135.85Z" fill="#ffb2b2"/><path d="M53.08,128.23 L53.72,126.84 L54.42,125.46 L55.16,124.10 L55.95,122.76 L56.78,121.45 L57.67,120.16 L67.17,125.70 L66.48,126.71 L65.82,127.74 L65.20,128.79 L64.62,129.86 L64.07,130.95 L63.57,132.04Z" fill="#fffcfc"/><path d="M42.58,124.43 L43.37,122.73 L44.21,121.05 L45.11,119.40 L46.07,117.78 L47.09,116.18 L48.16,114.62 L57.67,120.16 L56.78,121.45 L55.95,122.76 L55.16,124.10 L54.42,125.46 L53.72,126.84 L53.08,128.23Z" fill="#fffcfc"/><path d="M32.09,120.62 L33.02,118.62 L34.01,116.65 L35.07,114.70 L36.20,112.79 L37.39,110.92 L38.65,109.08 L48.16,114.62 L47.09,116.18 L46.07,117.78 L45.11,119.40 L44.21,121.05 L43.37,122.73 L42.58,124.43Z" fill="#ffcccc"/><path d="M86.18,136.78 L86.51,136.33 L86.86,135.89 L87.22,135.46 L87.60,135.04 L87.99,134.63 L88.39,134.23 L96.57,141.31 L96.41,141.46 L96.25,141.63 L96.10,141.79 L95.96,141.97 L95.82,142.14 L95.69,142.32Z" fill="#ffb2b2"/><path d="M76.68,131.24 L77.21,130.52 L77.76,129.81 L78.34,129.12 L78.94,128.45 L79.57,127.80 L80.22,127.16 L88.39,134.23 L87.99,134.63 L87.60,135.04 L87.22,135.46 L86.86,135.89 L86.51,136.33 L86.18,136.78Z" fill="#ffbfbf"/><path d="M67.17,125.70 L67.90,124.71 L68.66,123.74 L69.46,122.79 L70.29,121.86 L71.15,120.96 L72.04,120.09 L80.22,127.16 L79.57,127.80 L78.94,128.45 L78.34,129.12 L77.76,129.81 L77.21,130.52 L76.68,131.24Z" fill="#ff1a1a"/><path d="M57.67,120.16 L58.59,118.90 L59.56,117.66 L60.58,116.45 L61.63,115.28 L62.72,114.13 L63.86,113.01 L72.04,120.09 L71.15,120.96 L70.29,121.86 L69.46,122.79 L68.66,123.74 L67.90,124.71 L67.17,125.70Z" fill="#fffcfc"/><path d="M48.16,114.62 L49.28,113.08 L50.46,111.58 L51.69,110.12 L52.97,108.69 L54.30,107.30 L55.68,105.94 L63.86,113.01 L62.72,114.13 L61.63,115.28 L60.58,116.45 L59.56,117.66 L58.59,118.90 L57.67,120.16Z" fill="#fffcfc"/><path d="M38.65,109.08 L39.98,107.27 L41.36,105.51 L42.81,103.78 L44.32,102.10 L45.88,100.46 L47.50,98.87 L55.68,105.94 L54.30,107.30 L52.97,108.69 L51.69,110.12 L50.46,111.58 L49.28,113.08 L48.16,114.62Z" fill="#ffbfbf"/><path d="M88.39,134.23 L88.81,133.85 L89.24,133.47 L89.69,133.11 L90.15,132.77 L90.61,132.43 L91.09,132.11 L97.65,140.46 L97.46,140.59 L97.27,140.72 L97.09,140.86 L96.91,141.00 L96.74,141.15 L96.57,141.31Z" fill="#ff1414"/><path d="M80.22,127.16 L80.89,126.54 L81.58,125.95 L82.29,125.37 L83.02,124.81 L83.77,124.28 L84.54,123.76 L91.09,132.11 L90.61,132.43 L90.15,132.77 L89.69,133.11 L89.24,133.47 L88.81,133.85 L88.39,134.23Z" fill="#ffb2b2"/><path d="M72.04,120.09 L72.96,119.24 L73.91,118.42 L74.89,117.62 L75.90,116.86 L76.93,116.12 L77.99,115.41 L84.54,123.76 L83.77,124.28 L83.02,124.81 L82.29,125.37 L81.58,125.95 L80.89,126.54 L80.22,127.16Z" fill="#ff1a1a"/><path d="M63.86,113.01 L65.03,111.93 L66.24,110.89 L67.49,109.88 L68.77,108.90 L70.08,107.96 L71.43,107.06 L77.99,115.41 L76.93,116.12 L75.90,116.86 L74.89,117.62 L73.91,118.42 L72.96,119.24 L72.04,120.09Z" fill="#fff0f0"/><path d="M55.68,105.94 L57.11,104.63 L58.58,103.36 L60.09,102.13 L61.64,100.95 L63.24,99.81 L64.88,98.72 L71.43,107.06 L70.08,107.96 L68.77,108.90 L67.49,109.88 L66.24,110.89 L65.03,111.93 L63.86,113.01Z" fill="#fffcfc"/><path d="M47.50,98.87 L49.18,97.33 L50.91,95.83 L52.69,94.38 L54.52,92.99 L56.40,91.65 L58.32,90.37 L64.88,98.72 L63.24,99.81 L61.64,100.95 L60.09,102.13 L58.58,103.36 L57.11,104.63 L55.68,105.94Z" fill="#fff7f7"/><path d="M91.09,132.11 L91.59,131.80 L92.09,131.51 L92.60,131.23 L93.12,130.97 L93.65,130.72 L94.19,130.49 L98.88,139.81 L98.67,139.91 L98.46,140.00 L98.25,140.11 L98.05,140.22 L97.85,140.34 L97.65,140.46Z" fill="#ff1414"/><path d="M84.54,123.76 L85.33,123.27 L86.13,122.80 L86.95,122.36 L87.78,121.94 L88.63,121.54 L89.50,121.17 L94.19,130.49 L93.65,130.72 L93.12,130.97 L92.60,131.23 L92.09,131.51 L91.59,131.80 L91.09,132.11Z" fill="#ffcccc"/><path d="M77.99,115.41 L79.07,114.74 L80.17,114.09 L81.30,113.48 L82.45,112.90 L83.62,112.36 L84.80,111.84 L89.50,121.17 L88.63,121.54 L87.78,121.94 L86.95,122.36 L86.13,122.80 L85.33,123.27 L84.54,123.76Z" fill="#ffa6a6"/><path d="M71.43,107.06 L72.81,106.20 L74.22,105.38 L75.65,104.60 L77.11,103.87 L78.60,103.17 L80.11,102.52 L84.80,111.84 L83.62,112.36 L82.45,112.90 L81.30,113.48 L80.17,114.09 L79.07,114.74 L77.99,115.41Z" fill="#ffe0e0"/><path d="M64.88,98.72 L66.55,97.67 L68.26,96.68 L70.00,95.73 L71.77,94.83 L73.58,93.99 L75.41,93.20 L80.11,102.52 L78.60,103.17 L77.11,103.87 L75.65,104.60 L74.22,105.38 L72.81,106.20 L71.43,107.06Z" fill="#fffcfc"/><path d="M58.32,90.37 L60.29,89.14 L62.30,87.97 L64.35,86.85 L66.44,85.80 L68.56,84.81 L70.72,83.87 L75.41,93.20 L73.58,93.99 L71.77,94.83 L70.00,95.73 L68.26,96.68 L66.55,97.67 L64.88,98.72Z" fill="#ffcccc"/><path d="M94.19,130.49 L94.74,130.27 L95.29,130.07 L95.85,129.89 L96.42,129.72 L96.99,129.56 L97.57,129.43 L100.23,139.39 L100.00,139.44 L99.77,139.50 L99.55,139.57 L99.32,139.65 L99.10,139.73 L98.88,139.81Z" fill="#ffb2b2"/><path d="M89.50,121.17 L90.37,120.82 L91.26,120.50 L92.16,120.20 L93.06,119.93 L93.98,119.69 L94.90,119.47 L97.57,129.43 L96.99,129.56 L96.42,129.72 L95.85,129.89 L95.29,130.07 L94.74,130.27 L94.19,130.49Z" fill="#ffb2b2"/><path d="M84.80,111.84 L86.01,111.37 L87.22,110.92 L88.46,110.52 L89.71,110.14 L90.97,109.81 L92.24,109.51 L94.90,119.47 L93.98,119.69 L93.06,119.93 L92.16,120.20 L91.26,120.50 L90.37,120.82 L89.50,121.17Z" fill="#ff1a1a"/><path d="M80.11,102.52 L81.64,101.91 L83.19,101.35 L84.76,100.83 L86.35,100.36 L87.96,99.93 L89.58,99.55 L92.24,109.51 L90.97,109.81 L89.71,110.14 L88.46,110.52 L87.22,110.92 L86.01,111.37 L84.80,111.84Z" fill="#fffcfc"/><path d="M75.41,93.20 L77.27,92.46 L79.16,91.77 L81.07,91.14 L83.00,90.57 L84.95,90.05 L86.91,89.59 L89.58,99.55 L87.96,99.93 L86.35,100.36 L84.76,100.83 L83.19,101.35 L81.64,101.91 L80.11,102.52Z" fill="#fffcfc"/><path d="M70.72,83.87 L72.91,83.01 L75.13,82.20 L77.37,81.46 L79.64,80.78 L81.93,80.17 L84.25,79.63 L86.91,89.59 L84.95,90.05 L83.00,90.57 L81.07,91.14 L79.16,91.77 L77.27,92.46 L75.41,93.20Z" fill="#ffd1d1"/><path d="M97.57,129.43 L98.15,129.31 L98.74,129.21 L99.32,129.12 L99.92,129.05 L100.51,129.00 L101.11,128.97 L101.64,139.21 L101.41,139.22 L101.17,139.24 L100.93,139.27 L100.70,139.30 L100.46,139.34 L100.23,139.39Z" fill="#ff1414"/><path d="M94.90,119.47 L95.84,119.28 L96.77,119.11 L97.72,118.98 L98.66,118.87 L99.61,118.79 L100.57,118.73 L101.11,128.97 L100.51,129.00 L99.92,129.05 L99.32,129.12 L98.74,129.21 L98.15,129.31 L97.57,129.43Z" fill="#ff9999"/><path d="M92.24,109.51 L93.52,109.25 L94.81,109.02 L96.11,108.83 L97.41,108.68 L98.72,108.57 L100.03,108.49 L100.57,118.73 L99.61,118.79 L98.66,118.87 L97.72,118.98 L96.77,119.11 L95.84,119.28 L94.90,119.47Z" fill="#ffb2b2"/><path d="M89.58,99.55 L91.21,99.21 L92.85,98.93 L94.50,98.69 L96.16,98.50 L97.82,98.35 L99.49,98.26 L100.03,108.49 L98.72,108.57 L97.41,108.68 L96.11,108.83 L94.81,109.02 L93.52,109.25 L92.24,109.51Z" fill="#ffe6e6"/><path d="M86.91,89.59 L88.89,89.18 L90.89,88.83 L92.89,88.54 L94.91,88.31 L96.93,88.13 L98.95,88.02 L99.49,98.26 L97.82,98.35 L96.16,98.50 L94.50,98.69 L92.85,98.93 L91.21,99.21 L89.58,99.55Z" fill="#fffcfc"/><path d="M84.25,79.63 L86.58,79.15 L88.92,78.74 L91.28,78.40 L93.65,78.12 L96.03,77.92 L98.42,77.78 L98.95,88.02 L96.93,88.13 L94.91,88.31 L92.89,88.54 L90.89,88.83 L88.89,89.18 L86.91,89.59Z" fill="#ffd9d9"/><ellipse cx="102" cy="146" rx="7.50" ry="6.80" fill="none" stroke="#151515" stroke-width="1.15"/><ellipse cx="102" cy="146" rx="18.80" ry="17.05" fill="none" stroke="#151515" stroke-width="1.15"/><ellipse cx="102" cy="146" rx="30.10" ry="27.30" fill="none" stroke="#151515" stroke-width="1.15"/><ellipse cx="102" cy="146" rx="41.40" ry="37.55" fill="none" stroke="#151515" stroke-width="1.15"/><ellipse cx="102" cy="146" rx="52.70" ry="47.80" fill="none" stroke="#151515" stroke-width="1.15"/><ellipse cx="102" cy="146" rx="64.00" ry="58.05" fill="none" stroke="#151515" stroke-width="1.15"/><ellipse cx="102" cy="146" rx="75.30" ry="68.30" fill="none" stroke="#151515" stroke-width="1.15"/><line x1="101.64" y1="139.21" x2="98.42" y2="77.78" stroke="#151515" stroke-width="1.15"/><line x1="103.07" y1="139.27" x2="112.72" y2="78.40" stroke="#151515" stroke-width="1.15"/><line x1="104.45" y1="139.57" x2="126.63" y2="81.46" stroke="#151515" stroke-width="1.15"/><line x1="105.75" y1="140.11" x2="139.65" y2="86.85" stroke="#151515" stroke-width="1.15"/><line x1="106.91" y1="140.86" x2="151.31" y2="94.38" stroke="#151515" stroke-width="1.15"/><line x1="107.90" y1="141.79" x2="161.19" y2="103.78" stroke="#151515" stroke-width="1.15"/><line x1="108.67" y1="142.88" x2="168.93" y2="114.70" stroke="#151515" stroke-width="1.15"/><line x1="109.20" y1="144.08" x2="174.25" y2="126.76" stroke="#151515" stroke-width="1.15"/><line x1="109.47" y1="145.35" x2="176.96" y2="139.51" stroke="#151515" stroke-width="1.15"/><line x1="109.47" y1="146.65" x2="176.96" y2="152.49" stroke="#151515" stroke-width="1.15"/><line x1="109.20" y1="147.92" x2="174.25" y2="165.24" stroke="#151515" stroke-width="1.15"/><line x1="108.67" y1="149.12" x2="168.93" y2="177.30" stroke="#151515" stroke-width="1.15"/><line x1="107.90" y1="150.21" x2="161.19" y2="188.22" stroke="#151515" stroke-width="1.15"/><line x1="106.91" y1="151.14" x2="151.31" y2="197.62" stroke="#151515" stroke-width="1.15"/><line x1="105.75" y1="151.89" x2="139.65" y2="205.15" stroke="#151515" stroke-width="1.15"/><line x1="104.45" y1="152.43" x2="126.63" y2="210.54" stroke="#151515" stroke-width="1.15"/><line x1="103.07" y1="152.73" x2="112.72" y2="213.60" stroke="#151515" stroke-width="1.15"/><line x1="101.64" y1="152.79" x2="98.42" y2="214.22" stroke="#151515" stroke-width="1.15"/><line x1="100.23" y1="152.61" x2="84.25" y2="212.37" stroke="#151515" stroke-width="1.15"/><line x1="98.88" y1="152.19" x2="70.72" y2="208.13" stroke="#151515" stroke-width="1.15"/><line x1="97.65" y1="151.54" x2="58.32" y2="201.63" stroke="#151515" stroke-width="1.15"/><line x1="96.57" y1="150.69" x2="47.50" y2="193.13" stroke="#151515" stroke-width="1.15"/><line x1="95.69" y1="149.68" x2="38.65" y2="182.92" stroke="#151515" stroke-width="1.15"/><line x1="95.04" y1="148.53" x2="32.09" y2="171.38" stroke="#151515" stroke-width="1.15"/><line x1="94.64" y1="147.29" x2="28.06" y2="158.93" stroke="#151515" stroke-width="1.15"/><line x1="94.50" y1="146.00" x2="26.70" y2="146.00" stroke="#151515" stroke-width="1.15"/><line x1="94.64" y1="144.71" x2="28.06" y2="133.07" stroke="#151515" stroke-width="1.15"/><line x1="95.04" y1="143.47" x2="32.09" y2="120.62" stroke="#151515" stroke-width="1.15"/><line x1="95.69" y1="142.32" x2="38.65" y2="109.08" stroke="#151515" stroke-width="1.15"/><line x1="96.57" y1="141.31" x2="47.50" y2="98.87" stroke="#151515" stroke-width="1.15"/><line x1="97.65" y1="140.46" x2="58.32" y2="90.37" stroke="#151515" stroke-width="1.15"/><line x1="98.88" y1="139.81" x2="70.72" y2="83.87" stroke="#151515" stroke-width="1.15"/><line x1="100.23" y1="139.39" x2="84.25" y2="79.63" stroke="#151515" stroke-width="1.15"/><line x1="131.18" y1="100.17" x2="139.65" y2="86.85" stroke="#111" stroke-width="1.9"/><text x="0" y="0" transform="translate(105.69,75.70) rotate(-86.99)" font-size="4.9" fill="#3a3a3a" dominant-baseline="central">LIPE</text><text x="0" y="0" transform="translate(120.29,77.60) rotate(-75.03)" font-size="4.9" fill="#3a3a3a" dominant-baseline="central">SLC2A4</text><text x="0" y="0" transform="translate(134.24,81.98) rotate(-63.27)" font-size="4.9" fill="#3a3a3a" dominant-baseline="central">SREBF1</text><text x="0" y="0" transform="translate(147.01,88.67) rotate(-51.86)" font-size="4.9" fill="#3a3a3a" dominant-baseline="central">ACACA</text><text x="0" y="0" transform="translate(158.16,97.43) rotate(-40.85)" font-size="4.9" fill="#3a3a3a" dominant-baseline="central">ACACB</text><text x="0" y="0" transform="translate(167.28,107.95) rotate(-30.24)" font-size="4.9" fill="#3a3a3a" dominant-baseline="central">ACSL5</text><text x="0" y="0" transform="translate(174.04,119.84) rotate(-19.96)" font-size="4.9" fill="#3a3a3a" dominant-baseline="central">FASN</text><text x="0" y="0" transform="translate(178.20,132.68) rotate(-9.92)" font-size="4.9" fill="#3a3a3a" dominant-baseline="central">HACD2</text><text x="0" y="0" transform="translate(179.60,146.00) rotate(0.00)" font-size="4.9" fill="#3a3a3a" dominant-baseline="central">ACADL</text><text x="0" y="0" transform="translate(178.20,159.32) rotate(9.92)" font-size="4.9" fill="#3a3a3a" dominant-baseline="central">DHCR24</text><text x="0" y="0" transform="translate(174.04,172.16) rotate(19.96)" font-size="4.9" fill="#3a3a3a" dominant-baseline="central">DHCR7</text><text x="0" y="0" transform="translate(167.28,184.05) rotate(30.24)" font-size="4.9" fill="#3a3a3a" dominant-baseline="central">TM7SF2</text><text x="0" y="0" transform="translate(158.16,194.57) rotate(40.85)" font-size="4.9" fill="#3a3a3a" dominant-baseline="central">AGPAT2</text><text x="0" y="0" transform="translate(147.01,203.33) rotate(51.86)" font-size="4.9" fill="#3a3a3a" dominant-baseline="central">AKR1B10</text><text x="0" y="0" transform="translate(134.24,210.02) rotate(63.27)" font-size="4.9" fill="#3a3a3a" dominant-baseline="central">DGAT1</text><text x="0" y="0" transform="translate(120.29,214.40) rotate(75.03)" font-size="4.9" fill="#3a3a3a" dominant-baseline="central">DGAT2</text><text x="0" y="0" transform="translate(105.69,216.30) rotate(86.99)" font-size="4.9" fill="#3a3a3a" dominant-baseline="central">GLYCTK</text><text x="0" y="0" transform="translate(90.96,215.67) rotate(279.01)" font-size="4.9" fill="#3a3a3a" text-anchor="end" dominant-baseline="central">GPAM</text><text x="0" y="0" transform="translate(76.62,212.51) rotate(290.89)" font-size="4.9" fill="#3a3a3a" text-anchor="end" dominant-baseline="central">LPIN1</text><text x="0" y="0" transform="translate(63.20,206.95) rotate(302.48)" font-size="4.9" fill="#3a3a3a" text-anchor="end" dominant-baseline="central">LPL</text><text x="0" y="0" transform="translate(51.18,199.19) rotate(313.69)" font-size="4.9" fill="#3a3a3a" text-anchor="end" dominant-baseline="central">MOGAT1</text><text x="0" y="0" transform="translate(41.00,189.51) rotate(324.50)" font-size="4.9" fill="#3a3a3a" text-anchor="end" dominant-baseline="central">PNPLA2</text><text x="0" y="0" transform="translate(33.03,178.25) rotate(334.94)" font-size="4.9" fill="#3a3a3a" text-anchor="end" dominant-baseline="central">PNPLA3</text><text x="0" y="0" transform="translate(27.54,165.83) rotate(345.09)" font-size="4.9" fill="#3a3a3a" text-anchor="end" dominant-baseline="central">LPCAT3</text><text x="0" y="0" transform="translate(24.75,152.69) rotate(355.05)" font-size="4.9" fill="#3a3a3a" text-anchor="end" dominant-baseline="central">PCYT2</text><text x="0" y="0" transform="translate(24.75,139.31) rotate(4.95)" font-size="4.9" fill="#3a3a3a" text-anchor="end" dominant-baseline="central">GPX3</text><text x="0" y="0" transform="translate(27.54,126.17) rotate(14.91)" font-size="4.9" fill="#3a3a3a" text-anchor="end" dominant-baseline="central">AQP7</text><text x="0" y="0" transform="translate(33.03,113.75) rotate(25.06)" font-size="4.9" fill="#3a3a3a" text-anchor="end" dominant-baseline="central">DBI</text><text x="0" y="0" transform="translate(41.00,102.49) rotate(35.50)" font-size="4.9" fill="#3a3a3a" text-anchor="end" dominant-baseline="central">LOC100509620</text><text x="0" y="0" transform="translate(51.18,92.81) rotate(46.31)" font-size="4.9" fill="#3a3a3a" text-anchor="end" dominant-baseline="central">PCK2</text><text x="0" y="0" transform="translate(63.20,85.05) rotate(57.52)" font-size="4.9" fill="#3a3a3a" text-anchor="end" dominant-baseline="central">PLIN1</text><text x="0" y="0" transform="translate(76.62,79.49) rotate(69.11)" font-size="4.9" fill="#3a3a3a" text-anchor="end" dominant-baseline="central">GYS2</text><text x="0" y="0" transform="translate(90.96,76.33) rotate(80.99)" font-size="4.9" fill="#3a3a3a" text-anchor="end" dominant-baseline="central">G0S2</text></g>
<text x="7.3" y="45.4" font-size="43" fill="#000">a</text>
<defs>
<linearGradient id="lg1" x1="0" y1="0" x2="0" y2="1"><stop offset="0" stop-color="#ff0000"/><stop offset="1" stop-color="#fff8f8"/></linearGradient>
<linearGradient id="lg2" x1="0" y1="0" x2="0" y2="1"><stop offset="0" stop-color="#ff0000"/><stop offset="1" stop-color="#fffafa"/></linearGradient>
</defs>
<rect x="285.2" y="9.9" width="15.6" height="108.9" fill="url(#lg1)" stroke="#222" stroke-width="1"/>
<line x1="300.8" y1="9.90" x2="303.6" y2="9.90" stroke="#222" stroke-width="1"/>
<text x="305" y="9.90" font-size="8.8" fill="#333" dominant-baseline="central">1.00</text>
<line x1="300.8" y1="31.68" x2="303.6" y2="31.68" stroke="#222" stroke-width="1"/>
<text x="305" y="31.68" font-size="8.8" fill="#333" dominant-baseline="central">0.80</text>
<line x1="300.8" y1="53.46" x2="303.6" y2="53.46" stroke="#222" stroke-width="1"/>
<text x="305" y="53.46" font-size="8.8" fill="#333" dominant-baseline="central">0.60</text>
<line x1="300.8" y1="75.24" x2="303.6" y2="75.24" stroke="#222" stroke-width="1"/>
<text x="305" y="75.24" font-size="8.8" fill="#333" dominant-baseline="central">0.40</text>
<line x1="300.8" y1="97.02" x2="303.6" y2="97.02" stroke="#222" stroke-width="1"/>
<text x="305" y="97.02" font-size="8.8" fill="#333" dominant-baseline="central">0.20</text>
<line x1="300.8" y1="118.80" x2="303.6" y2="118.80" stroke="#222" stroke-width="1"/>
<text x="305" y="118.80" font-size="8.8" fill="#333" dominant-baseline="central">0.00</text>
<text transform="translate(7.6,271.5) scale(1.21,1)" font-size="40" fill="#000">b</text>
<text transform="translate(76.8,278.90) scale(1.18,1)" font-size="10.3" font-weight="bold" fill="#111" text-anchor="end" dominant-baseline="central">TNNT1</text>
<line x1="79" y1="278.60" x2="86" y2="278.60" stroke="#111" stroke-width="1.2"/>
<rect x="86.80" y="276.30" width="16.20" height="4.60" fill="#fff" stroke="#000" stroke-width="2.00"/>
<rect x="86.80" y="276.30" width="14.60" height="4.60" fill="#c8101c" stroke="#000" stroke-width="2.00"/>
<text transform="translate(76.8,289.25) scale(1.18,1)" font-size="10.3" font-weight="bold" fill="#111" text-anchor="end" dominant-baseline="central">TCAP</text>
<line x1="79" y1="288.95" x2="86" y2="288.95" stroke="#111" stroke-width="1.2"/>
<rect x="86.80" y="286.65" width="35.40" height="4.60" fill="#fff" stroke="#000" stroke-width="2.00"/>
<rect x="86.80" y="286.65" width="25.60" height="4.60" fill="#c8101c" stroke="#000" stroke-width="2.00"/>
<text transform="translate(76.8,299.60) scale(1.18,1)" font-size="10.3" font-weight="bold" fill="#111" text-anchor="end" dominant-baseline="central">SCN4A</text>
<line x1="79" y1="299.30" x2="86" y2="299.30" stroke="#111" stroke-width="1.2"/>
<rect x="86.80" y="297.00" width="31.10" height="4.60" fill="#fff" stroke="#000" stroke-width="2.00"/>
<rect x="86.80" y="297.00" width="18.40" height="4.60" fill="#c8101c" stroke="#000" stroke-width="2.00"/>
<text transform="translate(76.8,309.95) scale(1.18,1)" font-size="10.3" font-weight="bold" fill="#111" text-anchor="end" dominant-baseline="central">NEB</text>
<line x1="79" y1="309.65" x2="86" y2="309.65" stroke="#111" stroke-width="1.2"/>
<rect x="86.80" y="307.35" width="13.90" height="4.60" fill="#fff" stroke="#000" stroke-width="2.00"/>
<rect x="86.80" y="307.35" width="11.60" height="4.60" fill="#c8101c" stroke="#000" stroke-width="2.00"/>
<text transform="translate(76.8,320.30) scale(1.18,1)" font-size="10.3" font-weight="bold" fill="#111" text-anchor="end" dominant-baseline="central">MYOG</text>
<line x1="79" y1="320.00" x2="86" y2="320.00" stroke="#111" stroke-width="1.2"/>
<rect x="86.80" y="317.70" width="6.30" height="4.60" fill="#fff" stroke="#000" stroke-width="2.00"/>
<rect x="86.80" y="317.70" width="4.80" height="4.60" fill="#c8101c" stroke="#000" stroke-width="2.00"/>
<text transform="translate(76.8,330.65) scale(1.18,1)" font-size="10.3" font-weight="bold" fill="#111" text-anchor="end" dominant-baseline="central">MYL1</text>
<line x1="79" y1="330.35" x2="86" y2="330.35" stroke="#111" stroke-width="1.2"/>
<rect x="86.80" y="328.05" width="22.10" height="4.60" fill="#fff" stroke="#000" stroke-width="2.00"/>
<rect x="86.80" y="328.05" width="20.20" height="4.60" fill="#c8101c" stroke="#000" stroke-width="2.00"/>
<text transform="translate(76.8,341.00) scale(1.18,1)" font-size="10.3" font-weight="bold" fill="#111" text-anchor="end" dominant-baseline="central">MYH2</text>
<line x1="79" y1="340.70" x2="86" y2="340.70" stroke="#111" stroke-width="1.2"/>
<rect x="86.80" y="338.40" width="18.10" height="4.60" fill="#fff" stroke="#000" stroke-width="2.00"/>
<rect x="86.80" y="338.40" width="16.40" height="4.60" fill="#c8101c" stroke="#000" stroke-width="2.00"/>
<text transform="translate(76.8,351.35) scale(1.18,1)" font-size="10.3" font-weight="bold" fill="#111" text-anchor="end" dominant-baseline="central">MYH15</text>
<line x1="79" y1="351.05" x2="86" y2="351.05" stroke="#111" stroke-width="1.2"/>
<rect x="86.80" y="348.75" width="15.80" height="4.60" fill="#fff" stroke="#000" stroke-width="2.00"/>
<rect x="86.80" y="348.75" width="14.00" height="4.60" fill="#c8101c" stroke="#000" stroke-width="2.00"/>
<text transform="translate(76.8,361.70) scale(1.18,1)" font-size="10.3" font-weight="bold" fill="#111" text-anchor="end" dominant-baseline="central">MYH1</text>
<line x1="79" y1="361.40" x2="86" y2="361.40" stroke="#111" stroke-width="1.2"/>
<rect x="86.80" y="359.10" width="14.30" height="4.60" fill="#fff" stroke="#000" stroke-width="2.00"/>
<rect x="86.80" y="359.10" width="12.70" height="4.60" fill="#c8101c" stroke="#000" stroke-width="2.00"/>
<text transform="translate(76.8,372.05) scale(1.18,1)" font-size="10.3" font-weight="bold" fill="#111" text-anchor="end" dominant-baseline="central">MYBPC1</text>
<line x1="79" y1="371.75" x2="86" y2="371.75" stroke="#111" stroke-width="1.2"/>
<rect x="86.80" y="369.45" width="16.60" height="4.60" fill="#fff" stroke="#000" stroke-width="2.00"/>
<rect x="86.80" y="369.45" width="14.80" height="4.60" fill="#c8101c" stroke="#000" stroke-width="2.00"/>
<text transform="translate(76.8,382.40) scale(1.18,1)" font-size="10.3" font-weight="bold" fill="#111" text-anchor="end" dominant-baseline="central">MRLN</text>
<line x1="79" y1="382.10" x2="86" y2="382.10" stroke="#111" stroke-width="1.2"/>
<rect x="86.80" y="379.80" width="6.20" height="4.60" fill="#fff" stroke="#000" stroke-width="2.00"/>
<rect x="86.80" y="379.80" width="8.10" height="4.60" fill="#c8101c" stroke="#000" stroke-width="2.00"/>
<text transform="translate(76.8,392.75) scale(1.18,1)" font-size="10.3" font-weight="bold" fill="#111" text-anchor="end" dominant-baseline="central">ATP1A2</text>
<line x1="79" y1="392.45" x2="86" y2="392.45" stroke="#111" stroke-width="1.2"/>
<rect x="86.80" y="390.15" width="84.80" height="4.60" fill="#fff" stroke="#000" stroke-width="2.00"/>
<rect x="86.80" y="390.15" width="45.60" height="4.60" fill="#c8101c" stroke="#000" stroke-width="2.00"/>
<text transform="translate(76.8,403.10) scale(1.18,1)" font-size="10.3" font-weight="bold" fill="#111" text-anchor="end" dominant-baseline="central">ADSS1</text>
<line x1="79" y1="402.80" x2="86" y2="402.80" stroke="#111" stroke-width="1.2"/>
<rect x="86.80" y="400.50" width="45.40" height="4.60" fill="#fff" stroke="#000" stroke-width="2.00"/>
<rect x="86.80" y="400.50" width="25.80" height="4.60" fill="#c8101c" stroke="#000" stroke-width="2.00"/>
<text transform="translate(76.8,413.45) scale(1.18,1)" font-size="10.3" font-weight="bold" fill="#111" text-anchor="end" dominant-baseline="central">ACTC1</text>
<line x1="79" y1="413.15" x2="86" y2="413.15" stroke="#111" stroke-width="1.2"/>
<rect x="86.80" y="410.85" width="40.20" height="4.60" fill="#fff" stroke="#000" stroke-width="2.00"/>
<rect x="86.80" y="410.85" width="30.60" height="4.60" fill="#c8101c" stroke="#000" stroke-width="2.00"/>
<line x1="85.9" y1="270.8" x2="85.9" y2="420.7" stroke="#000" stroke-width="1.7"/>
<line x1="85.1" y1="419.9" x2="195.9" y2="419.9" stroke="#000" stroke-width="1.7"/>
<line x1="85.80" y1="419.3" x2="85.80" y2="426.2" stroke="#000" stroke-width="1.6"/>
<text x="85.80" y="439.8" font-size="12.4" font-weight="bold" fill="#111" text-anchor="middle">0</text>
<line x1="122.25" y1="419.3" x2="122.25" y2="426.2" stroke="#000" stroke-width="1.6"/>
<text x="122.25" y="439.8" font-size="12.4" font-weight="bold" fill="#111" text-anchor="middle">5</text>
<line x1="158.70" y1="419.3" x2="158.70" y2="426.2" stroke="#000" stroke-width="1.6"/>
<text x="158.70" y="439.8" font-size="12.4" font-weight="bold" fill="#111" text-anchor="middle">10</text>
<line x1="195.15" y1="419.3" x2="195.15" y2="426.2" stroke="#000" stroke-width="1.6"/>
<text x="195.15" y="439.8" font-size="12.4" font-weight="bold" fill="#111" text-anchor="middle">15</text>
<text transform="translate(16.8,345.2) rotate(-90) scale(0.895,1)" font-size="13.7" font-weight="bold" fill="#111" text-anchor="middle">log2(FPKM+1)</text>
<rect x="370.6" y="277.8" width="16" height="6.3" fill="#fff" stroke="#000" stroke-width="1.6"/>
<rect x="370.6" y="297.9" width="16" height="6.3" fill="#e00010" stroke="#000" stroke-width="1.6"/>
<text transform="translate(397.4,285.3) scale(1.05,1)" font-size="13" fill="#111">Control</text>
<text transform="translate(397.2,305.3) scale(1.05,1)" font-size="13" fill="#111">TA0</text>
<text transform="translate(391.2,44.8) scale(1.16,1)" font-size="42" fill="#000">c</text>
<rect x="457.10" y="37.20" width="17.52" height="18.56" fill="#ff0000" stroke="#fff" stroke-width="0.6" stroke-opacity="0.85"/>
<text transform="translate(465.86,46.18) scale(0.9,1)" font-size="8.4" fill="#000" fill-opacity="0.5" stroke="#000" stroke-opacity="0.45" stroke-width="0.2" text-anchor="middle" dominant-baseline="central">5.33</text>
<rect x="474.62" y="37.20" width="17.52" height="18.56" fill="#ffd1d1" stroke="#fff" stroke-width="0.6" stroke-opacity="0.85"/>
<text transform="translate(483.38,46.18) scale(0.9,1)" font-size="8.4" fill="#000" fill-opacity="0.72" stroke="#000" stroke-opacity="0.45" stroke-width="0.2" text-anchor="middle" dominant-baseline="central">2.12</text>
<rect x="492.14" y="37.20" width="17.52" height="18.56" fill="#ffd6d6" stroke="#fff" stroke-width="0.6" stroke-opacity="0.85"/>
<text transform="translate(500.90,46.18) scale(0.9,1)" font-size="8.4" fill="#000" fill-opacity="0.72" stroke="#000" stroke-opacity="0.45" stroke-width="0.2" text-anchor="middle" dominant-baseline="central">1.58</text>
<rect x="509.66" y="37.20" width="17.52" height="18.56" fill="#ffffff" stroke="#fff" stroke-width="0.6" stroke-opacity="0.85"/>
<text transform="translate(518.42,46.18) scale(0.9,1)" font-size="8.4" fill="#000" fill-opacity="0.72" stroke="#000" stroke-opacity="0.45" stroke-width="0.2" text-anchor="middle" dominant-baseline="central">0.43</text>
<rect x="527.18" y="37.20" width="17.52" height="18.56" fill="#fff2f2" stroke="#fff" stroke-width="0.6" stroke-opacity="0.85"/>
<text transform="translate(535.94,46.18) scale(0.9,1)" font-size="8.4" fill="#000" fill-opacity="0.72" stroke="#000" stroke-opacity="0.45" stroke-width="0.2" text-anchor="middle" dominant-baseline="central">0.69</text>
<rect x="544.70" y="37.20" width="17.52" height="18.56" fill="#ffdede" stroke="#fff" stroke-width="0.6" stroke-opacity="0.85"/>
<text transform="translate(553.46,46.18) scale(0.9,1)" font-size="8.4" fill="#000" fill-opacity="0.72" stroke="#000" stroke-opacity="0.45" stroke-width="0.2" text-anchor="middle" dominant-baseline="central">1.20</text>
<text x="565.4" y="46.18" font-size="8.7" fill="#222" stroke="#222" stroke-width="0.2" dominant-baseline="central">GFRA2</text>
<rect x="457.10" y="55.76" width="17.52" height="18.56" fill="#ff0000" stroke="#fff" stroke-width="0.6" stroke-opacity="0.85"/>
<text transform="translate(465.86,64.74) scale(0.9,1)" font-size="8.4" fill="#000" fill-opacity="0.5" stroke="#000" stroke-opacity="0.45" stroke-width="0.2" text-anchor="middle" dominant-baseline="central">3.04</text>
<rect x="474.62" y="55.76" width="17.52" height="18.56" fill="#ff7373" stroke="#fff" stroke-width="0.6" stroke-opacity="0.85"/>
<text transform="translate(483.38,64.74) scale(0.9,1)" font-size="8.4" fill="#000" fill-opacity="0.72" stroke="#000" stroke-opacity="0.45" stroke-width="0.2" text-anchor="middle" dominant-baseline="central">2.21</text>
<rect x="492.14" y="55.76" width="17.52" height="18.56" fill="#ff9999" stroke="#fff" stroke-width="0.6" stroke-opacity="0.85"/>
<text transform="translate(500.90,64.74) scale(0.9,1)" font-size="8.4" fill="#000" fill-opacity="0.72" stroke="#000" stroke-opacity="0.45" stroke-width="0.2" text-anchor="middle" dominant-baseline="central">1.66</text>
<rect x="509.66" y="55.76" width="17.52" height="18.56" fill="#ffffff" stroke="#fff" stroke-width="0.6" stroke-opacity="0.85"/>
<text transform="translate(518.42,64.74) scale(0.9,1)" font-size="8.4" fill="#000" fill-opacity="0.72" stroke="#000" stroke-opacity="0.45" stroke-width="0.2" text-anchor="middle" dominant-baseline="central">0.11</text>
<rect x="527.18" y="55.76" width="17.52" height="18.56" fill="#fff7f7" stroke="#fff" stroke-width="0.6" stroke-opacity="0.85"/>
<text transform="translate(535.94,64.74) scale(0.9,1)" font-size="8.4" fill="#000" fill-opacity="0.72" stroke="#000" stroke-opacity="0.45" stroke-width="0.2" text-anchor="middle" dominant-baseline="central">0.27</text>
<rect x="544.70" y="55.76" width="17.52" height="18.56" fill="#ffe6e6" stroke="#fff" stroke-width="0.6" stroke-opacity="0.85"/>
<text transform="translate(553.46,64.74) scale(0.9,1)" font-size="8.4" fill="#000" fill-opacity="0.72" stroke="#000" stroke-opacity="0.45" stroke-width="0.2" text-anchor="middle" dominant-baseline="central">0.58</text>
<text x="565.4" y="64.74" font-size="8.7" fill="#222" stroke="#222" stroke-width="0.2" dominant-baseline="central">NELL2</text>
<rect x="457.10" y="74.32" width="17.52" height="18.56" fill="#ff0000" stroke="#fff" stroke-width="0.6" stroke-opacity="0.85"/>
<text transform="translate(465.86,83.30) scale(0.9,1)" font-size="8.4" fill="#000" fill-opacity="0.5" stroke="#000" stroke-opacity="0.45" stroke-width="0.2" text-anchor="middle" dominant-baseline="central">11.41</text>
<rect x="474.62" y="74.32" width="17.52" height="18.56" fill="#ffc4c4" stroke="#fff" stroke-width="0.6" stroke-opacity="0.85"/>
<text transform="translate(483.38,83.30) scale(0.9,1)" font-size="8.4" fill="#000" fill-opacity="0.72" stroke="#000" stroke-opacity="0.45" stroke-width="0.2" text-anchor="middle" dominant-baseline="central">7.28</text>
<rect x="492.14" y="74.32" width="17.52" height="18.56" fill="#ffd1d1" stroke="#fff" stroke-width="0.6" stroke-opacity="0.85"/>
<text transform="translate(500.90,83.30) scale(0.9,1)" font-size="8.4" fill="#000" fill-opacity="0.72" stroke="#000" stroke-opacity="0.45" stroke-width="0.2" text-anchor="middle" dominant-baseline="central">6.08</text>
<rect x="509.66" y="74.32" width="17.52" height="18.56" fill="#fff2f2" stroke="#fff" stroke-width="0.6" stroke-opacity="0.85"/>
<text transform="translate(518.42,83.30) scale(0.9,1)" font-size="8.4" fill="#000" fill-opacity="0.72" stroke="#000" stroke-opacity="0.45" stroke-width="0.2" text-anchor="middle" dominant-baseline="central">3.41</text>
<rect x="527.18" y="74.32" width="17.52" height="18.56" fill="#ffffff" stroke="#fff" stroke-width="0.6" stroke-opacity="0.85"/>
<text transform="translate(535.94,83.30) scale(0.9,1)" font-size="8.4" fill="#000" fill-opacity="0.72" stroke="#000" stroke-opacity="0.45" stroke-width="0.2" text-anchor="middle" dominant-baseline="central">2.56</text>
<rect x="544.70" y="74.32" width="17.52" height="18.56" fill="#ffffff" stroke="#fff" stroke-width="0.6" stroke-opacity="0.85"/>
<text transform="translate(553.46,83.30) scale(0.9,1)" font-size="8.4" fill="#000" fill-opacity="0.72" stroke="#000" stroke-opacity="0.45" stroke-width="0.2" text-anchor="middle" dominant-baseline="central">2.54</text>
<text x="565.4" y="83.30" font-size="8.7" fill="#222" stroke="#222" stroke-width="0.2" dominant-baseline="central">P2RY14</text>
<rect x="457.10" y="92.88" width="17.52" height="18.56" fill="#ff0000" stroke="#fff" stroke-width="0.6" stroke-opacity="0.85"/>
<text transform="translate(465.86,101.86) scale(0.9,1)" font-size="8.4" fill="#000" fill-opacity="0.5" stroke="#000" stroke-opacity="0.45" stroke-width="0.2" text-anchor="middle" dominant-baseline="central">0.85</text>
<rect x="474.62" y="92.88" width="17.52" height="18.56" fill="#ff3b3b" stroke="#fff" stroke-width="0.6" stroke-opacity="0.85"/>
<text transform="translate(483.38,101.86) scale(0.9,1)" font-size="8.4" fill="#000" fill-opacity="0.72" stroke="#000" stroke-opacity="0.45" stroke-width="0.2" text-anchor="middle" dominant-baseline="central">0.75</text>
<rect x="492.14" y="92.88" width="17.52" height="18.56" fill="#ff4c4c" stroke="#fff" stroke-width="0.6" stroke-opacity="0.85"/>
<text transform="translate(500.90,101.86) scale(0.9,1)" font-size="8.4" fill="#000" fill-opacity="0.72" stroke="#000" stroke-opacity="0.45" stroke-width="0.2" text-anchor="middle" dominant-baseline="central">0.70</text>
<rect x="509.66" y="92.88" width="17.52" height="18.56" fill="#ffffff" stroke="#fff" stroke-width="0.6" stroke-opacity="0.85"/>
<text transform="translate(518.42,101.86) scale(0.9,1)" font-size="8.4" fill="#000" fill-opacity="0.72" stroke="#000" stroke-opacity="0.45" stroke-width="0.2" text-anchor="middle" dominant-baseline="central">0.12</text>
<rect x="527.18" y="92.88" width="17.52" height="18.56" fill="#ffffff" stroke="#fff" stroke-width="0.6" stroke-opacity="0.85"/>
<text transform="translate(535.94,101.86) scale(0.9,1)" font-size="8.4" fill="#000" fill-opacity="0.72" stroke="#000" stroke-opacity="0.45" stroke-width="0.2" text-anchor="middle" dominant-baseline="central">0.14</text>
<rect x="544.70" y="92.88" width="17.52" height="18.56" fill="#ffeded" stroke="#fff" stroke-width="0.6" stroke-opacity="0.85"/>
<text transform="translate(553.46,101.86) scale(0.9,1)" font-size="8.4" fill="#000" fill-opacity="0.72" stroke="#000" stroke-opacity="0.45" stroke-width="0.2" text-anchor="middle" dominant-baseline="central">0.20</text>
<text x="565.4" y="101.86" font-size="8.7" fill="#222" stroke="#222" stroke-width="0.2" dominant-baseline="central">NTNG1</text>
<rect x="457.10" y="111.44" width="17.52" height="18.56" fill="#ff0000" stroke="#fff" stroke-width="0.6" stroke-opacity="0.85"/>
<text transform="translate(465.86,120.42) scale(0.9,1)" font-size="8.4" fill="#000" fill-opacity="0.5" stroke="#000" stroke-opacity="0.45" stroke-width="0.2" text-anchor="middle" dominant-baseline="central">0.65</text>
<rect x="474.62" y="111.44" width="17.52" height="18.56" fill="#ffa1a1" stroke="#fff" stroke-width="0.6" stroke-opacity="0.85"/>
<text transform="translate(483.38,120.42) scale(0.9,1)" font-size="8.4" fill="#000" fill-opacity="0.72" stroke="#000" stroke-opacity="0.45" stroke-width="0.2" text-anchor="middle" dominant-baseline="central">0.45</text>
<rect x="492.14" y="111.44" width="17.52" height="18.56" fill="#ff4c4c" stroke="#fff" stroke-width="0.6" stroke-opacity="0.85"/>
<text transform="translate(500.90,120.42) scale(0.9,1)" font-size="8.4" fill="#000" fill-opacity="0.72" stroke="#000" stroke-opacity="0.45" stroke-width="0.2" text-anchor="middle" dominant-baseline="central">0.54</text>
<rect x="509.66" y="111.44" width="17.52" height="18.56" fill="#fffafa" stroke="#fff" stroke-width="0.6" stroke-opacity="0.85"/>
<text transform="translate(518.42,120.42) scale(0.9,1)" font-size="8.4" fill="#000" fill-opacity="0.72" stroke="#000" stroke-opacity="0.45" stroke-width="0.2" text-anchor="middle" dominant-baseline="central">0.21</text>
<rect x="527.18" y="111.44" width="17.52" height="18.56" fill="#ffffff" stroke="#fff" stroke-width="0.6" stroke-opacity="0.85"/>
<text transform="translate(535.94,120.42) scale(0.9,1)" font-size="8.4" fill="#000" fill-opacity="0.72" stroke="#000" stroke-opacity="0.45" stroke-width="0.2" text-anchor="middle" dominant-baseline="central">0.18</text>
<rect x="544.70" y="111.44" width="17.52" height="18.56" fill="#ffffff" stroke="#fff" stroke-width="0.6" stroke-opacity="0.85"/>
<text transform="translate(553.46,120.42) scale(0.9,1)" font-size="8.4" fill="#000" fill-opacity="0.72" stroke="#000" stroke-opacity="0.45" stroke-width="0.2" text-anchor="middle" dominant-baseline="central">0.18</text>
<text x="565.4" y="120.42" font-size="8.7" fill="#222" stroke="#222" stroke-width="0.2" dominant-baseline="central">PPFIA2</text>
<rect x="457.10" y="130.00" width="17.52" height="18.56" fill="#ff3838" stroke="#fff" stroke-width="0.6" stroke-opacity="0.85"/>
<text transform="translate(465.86,138.98) scale(0.9,1)" font-size="8.4" fill="#000" fill-opacity="0.72" stroke="#000" stroke-opacity="0.45" stroke-width="0.2" text-anchor="middle" dominant-baseline="central">11.85</text>
<rect x="474.62" y="130.00" width="17.52" height="18.56" fill="#ff0000" stroke="#fff" stroke-width="0.6" stroke-opacity="0.85"/>
<text transform="translate(483.38,138.98) scale(0.9,1)" font-size="8.4" fill="#000" fill-opacity="0.5" stroke="#000" stroke-opacity="0.45" stroke-width="0.2" text-anchor="middle" dominant-baseline="central">14.03</text>
<rect x="492.14" y="130.00" width="17.52" height="18.56" fill="#ff1a1a" stroke="#fff" stroke-width="0.6" stroke-opacity="0.85"/>
<text transform="translate(500.90,138.98) scale(0.9,1)" font-size="8.4" fill="#000" fill-opacity="0.5" stroke="#000" stroke-opacity="0.45" stroke-width="0.2" text-anchor="middle" dominant-baseline="central">13.21</text>
<rect x="509.66" y="130.00" width="17.52" height="18.56" fill="#ffffff" stroke="#fff" stroke-width="0.6" stroke-opacity="0.85"/>
<text transform="translate(518.42,138.98) scale(0.9,1)" font-size="8.4" fill="#000" fill-opacity="0.72" stroke="#000" stroke-opacity="0.45" stroke-width="0.2" text-anchor="middle" dominant-baseline="central">1.95</text>
<rect x="527.18" y="130.00" width="17.52" height="18.56" fill="#fff0f0" stroke="#fff" stroke-width="0.6" stroke-opacity="0.85"/>
<text transform="translate(535.94,138.98) scale(0.9,1)" font-size="8.4" fill="#000" fill-opacity="0.72" stroke="#000" stroke-opacity="0.45" stroke-width="0.2" text-anchor="middle" dominant-baseline="central">3.23</text>
<rect x="544.70" y="130.00" width="17.52" height="18.56" fill="#ff9e9e" stroke="#fff" stroke-width="0.6" stroke-opacity="0.85"/>
<text transform="translate(553.46,138.98) scale(0.9,1)" font-size="8.4" fill="#000" fill-opacity="0.72" stroke="#000" stroke-opacity="0.45" stroke-width="0.2" text-anchor="middle" dominant-baseline="central">8.48</text>
<text x="565.4" y="138.98" font-size="8.7" fill="#222" stroke="#222" stroke-width="0.2" dominant-baseline="central">IGSF10</text>
<rect x="457.10" y="148.56" width="17.52" height="18.56" fill="#ff7373" stroke="#fff" stroke-width="0.6" stroke-opacity="0.85"/>
<text transform="translate(465.86,157.54) scale(0.9,1)" font-size="8.4" fill="#000" fill-opacity="0.72" stroke="#000" stroke-opacity="0.45" stroke-width="0.2" text-anchor="middle" dominant-baseline="central">0.67</text>
<rect x="474.62" y="148.56" width="17.52" height="18.56" fill="#ff0000" stroke="#fff" stroke-width="0.6" stroke-opacity="0.85"/>
<text transform="translate(483.38,157.54) scale(0.9,1)" font-size="8.4" fill="#000" fill-opacity="0.5" stroke="#000" stroke-opacity="0.45" stroke-width="0.2" text-anchor="middle" dominant-baseline="central">1.09</text>
<rect x="492.14" y="148.56" width="17.52" height="18.56" fill="#ff1f1f" stroke="#fff" stroke-width="0.6" stroke-opacity="0.85"/>
<text transform="translate(500.90,157.54) scale(0.9,1)" font-size="8.4" fill="#000" fill-opacity="0.5" stroke="#000" stroke-opacity="0.45" stroke-width="0.2" text-anchor="middle" dominant-baseline="central">0.85</text>
<rect x="509.66" y="148.56" width="17.52" height="18.56" fill="#ffffff" stroke="#fff" stroke-width="0.6" stroke-opacity="0.85"/>
<text transform="translate(518.42,157.54) scale(0.9,1)" font-size="8.4" fill="#000" fill-opacity="0.72" stroke="#000" stroke-opacity="0.45" stroke-width="0.2" text-anchor="middle" dominant-baseline="central">0.00</text>
<rect x="527.18" y="148.56" width="17.52" height="18.56" fill="#fff5f5" stroke="#fff" stroke-width="0.6" stroke-opacity="0.85"/>
<text transform="translate(535.94,157.54) scale(0.9,1)" font-size="8.4" fill="#000" fill-opacity="0.72" stroke="#000" stroke-opacity="0.45" stroke-width="0.2" text-anchor="middle" dominant-baseline="central">0.09</text>
<rect x="544.70" y="148.56" width="17.52" height="18.56" fill="#ffebeb" stroke="#fff" stroke-width="0.6" stroke-opacity="0.85"/>
<text transform="translate(553.46,157.54) scale(0.9,1)" font-size="8.4" fill="#000" fill-opacity="0.72" stroke="#000" stroke-opacity="0.45" stroke-width="0.2" text-anchor="middle" dominant-baseline="central">0.20</text>
<text x="565.4" y="157.54" font-size="8.7" fill="#222" stroke="#222" stroke-width="0.2" dominant-baseline="central">NELL1</text>
<rect x="457.10" y="167.12" width="17.52" height="18.56" fill="#ffa1a1" stroke="#fff" stroke-width="0.6" stroke-opacity="0.85"/>
<text transform="translate(465.86,176.10) scale(0.9,1)" font-size="8.4" fill="#000" fill-opacity="0.72" stroke="#000" stroke-opacity="0.45" stroke-width="0.2" text-anchor="middle" dominant-baseline="central">3.01</text>
<rect x="474.62" y="167.12" width="17.52" height="18.56" fill="#ff4c4c" stroke="#fff" stroke-width="0.6" stroke-opacity="0.85"/>
<text transform="translate(483.38,176.10) scale(0.9,1)" font-size="8.4" fill="#000" fill-opacity="0.72" stroke="#000" stroke-opacity="0.45" stroke-width="0.2" text-anchor="middle" dominant-baseline="central">4.05</text>
<rect x="492.14" y="167.12" width="17.52" height="18.56" fill="#ff0000" stroke="#fff" stroke-width="0.6" stroke-opacity="0.85"/>
<text transform="translate(500.90,176.10) scale(0.9,1)" font-size="8.4" fill="#000" fill-opacity="0.5" stroke="#000" stroke-opacity="0.45" stroke-width="0.2" text-anchor="middle" dominant-baseline="central">4.94</text>
<rect x="509.66" y="167.12" width="17.52" height="18.56" fill="#fff7f7" stroke="#fff" stroke-width="0.6" stroke-opacity="0.85"/>
<text transform="translate(518.42,176.10) scale(0.9,1)" font-size="8.4" fill="#000" fill-opacity="0.72" stroke="#000" stroke-opacity="0.45" stroke-width="0.2" text-anchor="middle" dominant-baseline="central">1.36</text>
<rect x="527.18" y="167.12" width="17.52" height="18.56" fill="#ffffff" stroke="#fff" stroke-width="0.6" stroke-opacity="0.85"/>
<text transform="translate(535.94,176.10) scale(0.9,1)" font-size="8.4" fill="#000" fill-opacity="0.72" stroke="#000" stroke-opacity="0.45" stroke-width="0.2" text-anchor="middle" dominant-baseline="central">1.06</text>
<rect x="544.70" y="167.12" width="17.52" height="18.56" fill="#ffeded" stroke="#fff" stroke-width="0.6" stroke-opacity="0.85"/>
<text transform="translate(553.46,176.10) scale(0.9,1)" font-size="8.4" fill="#000" fill-opacity="0.72" stroke="#000" stroke-opacity="0.45" stroke-width="0.2" text-anchor="middle" dominant-baseline="central">1.76</text>
<text x="565.4" y="176.10" font-size="8.7" fill="#222" stroke="#222" stroke-width="0.2" dominant-baseline="central">PRPH</text>
<rect x="457.10" y="185.68" width="17.52" height="18.56" fill="#ffffff" stroke="#fff" stroke-width="0.6" stroke-opacity="0.85"/>
<text transform="translate(465.86,194.66) scale(0.9,1)" font-size="8.4" fill="#000" fill-opacity="0.72" stroke="#000" stroke-opacity="0.45" stroke-width="0.2" text-anchor="middle" dominant-baseline="central">0.05</text>
<rect x="474.62" y="185.68" width="17.52" height="18.56" fill="#ffffff" stroke="#fff" stroke-width="0.6" stroke-opacity="0.85"/>
<text transform="translate(483.38,194.66) scale(0.9,1)" font-size="8.4" fill="#000" fill-opacity="0.72" stroke="#000" stroke-opacity="0.45" stroke-width="0.2" text-anchor="middle" dominant-baseline="central">0.05</text>
<rect x="492.14" y="185.68" width="17.52" height="18.56" fill="#ffffff" stroke="#fff" stroke-width="0.6" stroke-opacity="0.85"/>
<text transform="translate(500.90,194.66) scale(0.9,1)" font-size="8.4" fill="#000" fill-opacity="0.72" stroke="#000" stroke-opacity="0.45" stroke-width="0.2" text-anchor="middle" dominant-baseline="central">0.08</text>
<rect x="509.66" y="185.68" width="17.52" height="18.56" fill="#ff0000" stroke="#fff" stroke-width="0.6" stroke-opacity="0.85"/>
<text transform="translate(518.42,194.66) scale(0.9,1)" font-size="8.4" fill="#000" fill-opacity="0.5" stroke="#000" stroke-opacity="0.45" stroke-width="0.2" text-anchor="middle" dominant-baseline="central">42.42</text>
<rect x="527.18" y="185.68" width="17.52" height="18.56" fill="#ffffff" stroke="#fff" stroke-width="0.6" stroke-opacity="0.85"/>
<text transform="translate(535.94,194.66) scale(0.9,1)" font-size="8.4" fill="#000" fill-opacity="0.72" stroke="#000" stroke-opacity="0.45" stroke-width="0.2" text-anchor="middle" dominant-baseline="central">0.07</text>
<rect x="544.70" y="185.68" width="17.52" height="18.56" fill="#ffffff" stroke="#fff" stroke-width="0.6" stroke-opacity="0.85"/>
<text transform="translate(553.46,194.66) scale(0.9,1)" font-size="8.4" fill="#000" fill-opacity="0.72" stroke="#000" stroke-opacity="0.45" stroke-width="0.2" text-anchor="middle" dominant-baseline="central">0.08</text>
<text x="565.4" y="194.66" font-size="8.7" fill="#222" stroke="#222" stroke-width="0.2" dominant-baseline="central">NEFM</text>
<rect x="457.10" y="204.24" width="17.52" height="18.56" fill="#ff9999" stroke="#fff" stroke-width="0.6" stroke-opacity="0.85"/>
<text transform="translate(465.86,213.22) scale(0.9,1)" font-size="8.4" fill="#000" fill-opacity="0.72" stroke="#000" stroke-opacity="0.45" stroke-width="0.2" text-anchor="middle" dominant-baseline="central">8.77</text>
<rect x="474.62" y="204.24" width="17.52" height="18.56" fill="#ffe6e6" stroke="#fff" stroke-width="0.6" stroke-opacity="0.85"/>
<text transform="translate(483.38,213.22) scale(0.9,1)" font-size="8.4" fill="#000" fill-opacity="0.72" stroke="#000" stroke-opacity="0.45" stroke-width="0.2" text-anchor="middle" dominant-baseline="central">5.32</text>
<rect x="492.14" y="204.24" width="17.52" height="18.56" fill="#ffffff" stroke="#fff" stroke-width="0.6" stroke-opacity="0.85"/>
<text transform="translate(500.90,213.22) scale(0.9,1)" font-size="8.4" fill="#000" fill-opacity="0.72" stroke="#000" stroke-opacity="0.45" stroke-width="0.2" text-anchor="middle" dominant-baseline="central">3.91</text>
<rect x="509.66" y="204.24" width="17.52" height="18.56" fill="#ff0d0d" stroke="#fff" stroke-width="0.6" stroke-opacity="0.85"/>
<text transform="translate(518.42,213.22) scale(0.9,1)" font-size="8.4" fill="#000" fill-opacity="0.5" stroke="#000" stroke-opacity="0.45" stroke-width="0.2" text-anchor="middle" dominant-baseline="central">12.9</text>
<rect x="527.18" y="204.24" width="17.52" height="18.56" fill="#ff0000" stroke="#fff" stroke-width="0.6" stroke-opacity="0.85"/>
<text transform="translate(535.94,213.22) scale(0.9,1)" font-size="8.4" fill="#000" fill-opacity="0.5" stroke="#000" stroke-opacity="0.45" stroke-width="0.2" text-anchor="middle" dominant-baseline="central">13.28</text>
<rect x="544.70" y="204.24" width="17.52" height="18.56" fill="#ff4c4c" stroke="#fff" stroke-width="0.6" stroke-opacity="0.85"/>
<text transform="translate(553.46,213.22) scale(0.9,1)" font-size="8.4" fill="#000" fill-opacity="0.72" stroke="#000" stroke-opacity="0.45" stroke-width="0.2" text-anchor="middle" dominant-baseline="central">10.51</text>
<text x="565.4" y="213.22" font-size="8.7" fill="#222" stroke="#222" stroke-width="0.2" dominant-baseline="central">S1PR3</text>
<rect x="457.10" y="222.80" width="17.52" height="18.56" fill="#fff5f5" stroke="#fff" stroke-width="0.6" stroke-opacity="0.85"/>
<text transform="translate(465.86,231.78) scale(0.9,1)" font-size="8.4" fill="#000" fill-opacity="0.72" stroke="#000" stroke-opacity="0.45" stroke-width="0.2" text-anchor="middle" dominant-baseline="central">0.17</text>
<rect x="474.62" y="222.80" width="17.52" height="18.56" fill="#fffcfc" stroke="#fff" stroke-width="0.6" stroke-opacity="0.85"/>
<text transform="translate(483.38,231.78) scale(0.9,1)" font-size="8.4" fill="#000" fill-opacity="0.72" stroke="#000" stroke-opacity="0.45" stroke-width="0.2" text-anchor="middle" dominant-baseline="central">0.13</text>
<rect x="492.14" y="222.80" width="17.52" height="18.56" fill="#ffffff" stroke="#fff" stroke-width="0.6" stroke-opacity="0.85"/>
<text transform="translate(500.90,231.78) scale(0.9,1)" font-size="8.4" fill="#000" fill-opacity="0.72" stroke="#000" stroke-opacity="0.45" stroke-width="0.2" text-anchor="middle" dominant-baseline="central">0.12</text>
<rect x="509.66" y="222.80" width="17.52" height="18.56" fill="#ff0000" stroke="#fff" stroke-width="0.6" stroke-opacity="0.85"/>
<text transform="translate(518.42,231.78) scale(0.9,1)" font-size="8.4" fill="#000" fill-opacity="0.5" stroke="#000" stroke-opacity="0.45" stroke-width="0.2" text-anchor="middle" dominant-baseline="central">0.89</text>
<rect x="527.18" y="222.80" width="17.52" height="18.56" fill="#ff7373" stroke="#fff" stroke-width="0.6" stroke-opacity="0.85"/>
<text transform="translate(535.94,231.78) scale(0.9,1)" font-size="8.4" fill="#000" fill-opacity="0.72" stroke="#000" stroke-opacity="0.45" stroke-width="0.2" text-anchor="middle" dominant-baseline="central">0.61</text>
<rect x="544.70" y="222.80" width="17.52" height="18.56" fill="#ffcccc" stroke="#fff" stroke-width="0.6" stroke-opacity="0.85"/>
<text transform="translate(553.46,231.78) scale(0.9,1)" font-size="8.4" fill="#000" fill-opacity="0.72" stroke="#000" stroke-opacity="0.45" stroke-width="0.2" text-anchor="middle" dominant-baseline="central">0.33</text>
<text x="565.4" y="231.78" font-size="8.7" fill="#222" stroke="#222" stroke-width="0.2" dominant-baseline="central">DNAH9</text>
<rect x="457.10" y="241.36" width="17.52" height="18.56" fill="#ffffff" stroke="#fff" stroke-width="0.6" stroke-opacity="0.85"/>
<text transform="translate(465.86,250.34) scale(0.9,1)" font-size="8.4" fill="#000" fill-opacity="0.72" stroke="#000" stroke-opacity="0.45" stroke-width="0.2" text-anchor="middle" dominant-baseline="central">0.04</text>
<rect x="474.62" y="241.36" width="17.52" height="18.56" fill="#fffcfc" stroke="#fff" stroke-width="0.6" stroke-opacity="0.85"/>
<text transform="translate(483.38,250.34) scale(0.9,1)" font-size="8.4" fill="#000" fill-opacity="0.72" stroke="#000" stroke-opacity="0.45" stroke-width="0.2" text-anchor="middle" dominant-baseline="central">0.06</text>
<rect x="492.14" y="241.36" width="17.52" height="18.56" fill="#ffffff" stroke="#fff" stroke-width="0.6" stroke-opacity="0.85"/>
<text transform="translate(500.90,250.34) scale(0.9,1)" font-size="8.4" fill="#000" fill-opacity="0.72" stroke="#000" stroke-opacity="0.45" stroke-width="0.2" text-anchor="middle" dominant-baseline="central">0.04</text>
<rect x="509.66" y="241.36" width="17.52" height="18.56" fill="#ff0000" stroke="#fff" stroke-width="0.6" stroke-opacity="0.85"/>
<text transform="translate(518.42,250.34) scale(0.9,1)" font-size="8.4" fill="#000" fill-opacity="0.5" stroke="#000" stroke-opacity="0.45" stroke-width="0.2" text-anchor="middle" dominant-baseline="central">1.43</text>
<rect x="527.18" y="241.36" width="17.52" height="18.56" fill="#ff9999" stroke="#fff" stroke-width="0.6" stroke-opacity="0.85"/>
<text transform="translate(535.94,250.34) scale(0.9,1)" font-size="8.4" fill="#000" fill-opacity="0.72" stroke="#000" stroke-opacity="0.45" stroke-width="0.2" text-anchor="middle" dominant-baseline="central">0.75</text>
<rect x="544.70" y="241.36" width="17.52" height="18.56" fill="#ff8080" stroke="#fff" stroke-width="0.6" stroke-opacity="0.85"/>
<text transform="translate(553.46,250.34) scale(0.9,1)" font-size="8.4" fill="#000" fill-opacity="0.72" stroke="#000" stroke-opacity="0.45" stroke-width="0.2" text-anchor="middle" dominant-baseline="central">0.86</text>
<text x="565.4" y="250.34" font-size="8.7" fill="#222" stroke="#222" stroke-width="0.2" dominant-baseline="central">GFAP</text>
<text transform="translate(466.66,262.2) rotate(-45)" font-size="8.8" fill="#222" text-anchor="end" dominant-baseline="hanging">B2</text>
<text transform="translate(484.18,262.2) rotate(-45)" font-size="8.8" fill="#222" text-anchor="end" dominant-baseline="hanging">B1</text>
<text transform="translate(501.70,262.2) rotate(-45)" font-size="8.8" fill="#222" text-anchor="end" dominant-baseline="hanging">B3</text>
<text transform="translate(519.22,262.2) rotate(-45)" font-size="8.8" fill="#222" text-anchor="end" dominant-baseline="hanging">A3</text>
<text transform="translate(536.74,262.2) rotate(-45)" font-size="8.8" fill="#222" text-anchor="end" dominant-baseline="hanging">A1</text>
<text transform="translate(554.26,262.2) rotate(-45)" font-size="8.8" fill="#222" text-anchor="end" dominant-baseline="hanging">A2</text>
<path d="M483.38 37.20 V25.4 H500.90 V37.20 M465.86 37.20 V14.9 H492.14 V25.4 M535.94 37.20 V25.8 H553.46 V37.20 M518.42 37.20 V14.9 H544.70 V25.8 M479.00 14.9 V3.2 H531.56 V14.9 M457.10 65.04 H444.5 V83.60 H457.10 M457.10 46.48 H438.4 V74.32 H444.5 M457.10 102.16 H445 V120.72 H457.10 M457.10 157.84 H451.2 V176.40 H457.10 M457.10 139.28 H444.8 V167.12 H451.2 M445 111.44 H438.6 V153.20 H444.8 M438.4 60.40 H432.6 V132.32 H438.6 M457.10 232.08 H444.9 V250.64 H457.10 M457.10 213.52 H438.6 V241.36 H444.9 M457.10 194.96 H432.4 V227.44 H438.6 M432.6 96.36 H426.2 V211.20 H432.4" stroke="#8c8c8c" stroke-width="0.9" fill="none"/>
<rect x="650" y="48" width="11.6" height="84.2" fill="url(#lg2)"/>
<line x1="661.6" y1="48" x2="661.6" y2="132.2" stroke="#333" stroke-width="0.9"/>
<line x1="661.6" y1="48.00" x2="663.8" y2="48.00" stroke="#333" stroke-width="0.9"/>
<text x="664.6" y="48.00" font-size="7.4" fill="#333" dominant-baseline="central">1.00</text>
<line x1="661.6" y1="64.84" x2="663.8" y2="64.84" stroke="#333" stroke-width="0.9"/>
<text x="664.6" y="64.84" font-size="7.4" fill="#333" dominant-baseline="central">0.80</text>
<line x1="661.6" y1="81.68" x2="663.8" y2="81.68" stroke="#333" stroke-width="0.9"/>
<text x="664.6" y="81.68" font-size="7.4" fill="#333" dominant-baseline="central">0.60</text>
<line x1="661.6" y1="98.52" x2="663.8" y2="98.52" stroke="#333" stroke-width="0.9"/>
<text x="664.6" y="98.52" font-size="7.4" fill="#333" dominant-baseline="central">0.40</text>
<line x1="661.6" y1="115.36" x2="663.8" y2="115.36" stroke="#333" stroke-width="0.9"/>
<text x="664.6" y="115.36" font-size="7.4" fill="#333" dominant-baseline="central">0.20</text>
<line x1="661.6" y1="132.20" x2="663.8" y2="132.20" stroke="#333" stroke-width="0.9"/>
<text x="664.6" y="132.20" font-size="7.4" fill="#333" dominant-baseline="central">0.00</text>
</svg>
</body></html>
